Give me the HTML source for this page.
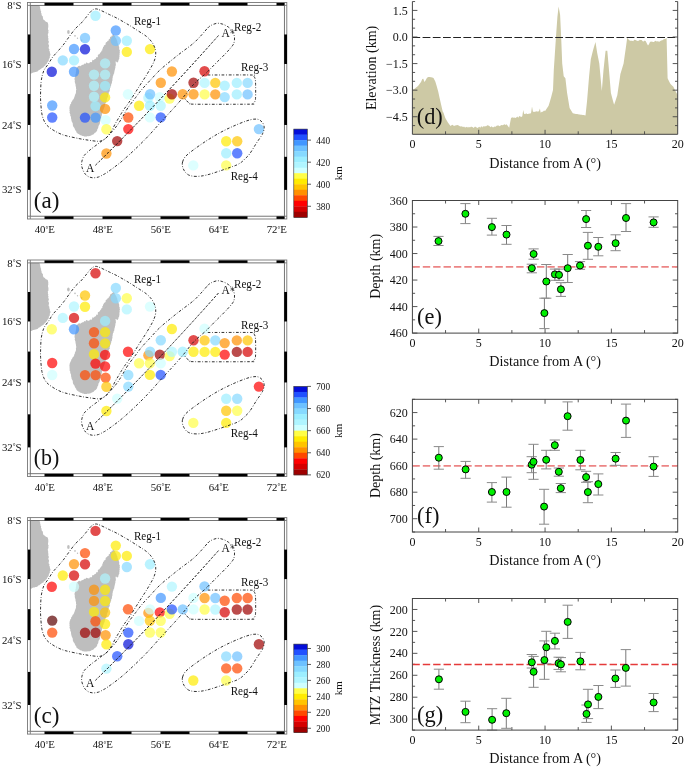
<!DOCTYPE html>
<html><head><meta charset="utf-8"><style>
html,body{margin:0;padding:0;background:#fff;}
svg{display:block;will-change:transform;}
text{font-family:"Liberation Serif",serif;fill:#111;}
</style></head><body>
<svg width="685" height="767" viewBox="0 0 685 767">
<rect width="685" height="767" fill="#fff"/>
<path d="M30.3,5.4 L39.5,5.4 L39.75,6.48 L40.2,7.5 L40.14,8.48 L40.5,9.4 L40.6,10.53 L41.2,11.5 L40.96,12.56 L41.5,13.5 L41.56,14.4 L41.67,15.28 L42.3,16 L42.97,16.82 L42.86,17.86 L43.1,18.8 L43.51,19.82 L44.5,20.3 L45.19,20.94 L45.83,21.66 L46.8,21.9 L47.68,22.49 L48,23.5 L48.3,25 L48.23,26 L48.33,27.02 L48,28 L48.04,28.83 L48.08,29.66 L48.66,30.44 L48.3,31.3 L48.48,32.25 L48.35,33.17 L47.7,34.04 L48,35 L47.82,35.94 L48.43,36.82 L47.91,37.78 L48.56,38.66 L48.3,39.6 L48.24,40.46 L48.74,41.28 L48.9,42.12 L48.5,43 L48.24,44 L48.91,44.93 L48.98,45.91 L48.8,46.9 L48.56,47.86 L48.84,48.7 L49.54,49.46 L49.13,50.45 L49.68,51.24 L49.9,52.1 L49.91,53.16 L50.5,54.12 L50.4,55.2 L49.81,56.05 L49.83,57.03 L49.8,58 L49.08,58.64 L48.81,59.46 L48.8,60.4 L48.45,61.21 L47.9,61.87 L47.3,62.5 L47.01,63.38 L46.49,64.09 L45.7,64.6 L45.36,65.5 L44.59,65.97 L43.77,66.39 L43.54,67.4 L42.6,67.7 L41.64,68.17 L40.95,69.02 L40,69.5 L39.45,70.11 L38.53,70.22 L38.06,70.94 L37.4,71.4 L36.48,71.86 L35.47,72.02 L34.5,72.3 L33.3,72.42 L32.2,72.9 L31.35,73.54 L30.3,73.4Z" fill="#bebebe"/>
<path d="M113.5,34.1 L114.09,34.88 L114.6,35.72 L115.2,36.5 L115.28,37.38 L115.92,37.99 L116.25,38.75 L116.6,39.5 L116.8,40.32 L117.33,41.03 L117.37,41.9 L117.55,42.73 L117.9,43.5 L117.96,44.46 L118.69,45.22 L118.81,46.16 L119.22,47.02 L119.2,48 L119.15,48.84 L119.39,49.63 L119.99,50.34 L119.51,51.27 L120,52 L119.53,53.11 L119.7,54.3 L119.47,55.08 L119.37,55.89 L119.56,56.74 L119.2,57.5 L119.33,58.57 L118.8,59.5 L118.46,60.24 L118.43,61.12 L118.02,61.84 L117.5,62.5 L116.74,62.14 L116.2,61.5 L115.3,61.8 L115.82,62.63 L115.72,63.59 L115.9,64.5 L115.79,65.38 L115.36,66.21 L115.44,67.12 L115.3,68 L114.98,68.93 L114.85,69.9 L114.51,70.82 L114.4,71.8 L114.23,72.61 L114.15,73.44 L113.46,74.12 L113.6,75 L112.97,75.86 L112.77,76.86 L112.7,77.9 L112.38,78.77 L112.48,79.72 L112.36,80.64 L112,81.5 L111.94,82.41 L111.89,83.32 L111.22,84.08 L111.2,85 L111.03,85.82 L110.49,86.53 L110.56,87.42 L109.93,88.11 L110,89 L109.53,89.75 L109.86,90.74 L109.48,91.52 L108.76,92.2 L108.8,93.1 L108.56,93.99 L107.96,94.76 L108.09,95.76 L108.05,96.7 L107.5,97.5 L107.15,98.35 L106.79,99.2 L106.87,100.19 L106.74,101.1 L106.2,101.9 L105.96,102.84 L105.2,103.58 L104.98,104.53 L104.8,105.5 L104.72,106.45 L104.32,107.26 L104.09,108.15 L103.5,108.9 L103.57,109.76 L102.85,110.39 L103.04,111.29 L102.6,112 L102.29,112.99 L102.1,114.01 L101.8,115 L101.78,115.93 L101.19,116.71 L101.38,117.69 L100.9,118.5 L100.58,119.35 L100.71,120.32 L100.28,121.14 L100,122 L99.93,123.05 L99.62,124.04 L99.2,125 L98.59,125.65 L98.4,126.46 L98.3,127.3 L98.06,128.32 L97.31,129.14 L97.2,130.2 L96.87,131.05 L96.26,131.71 L95.7,132.4 L94.84,132.81 L94.24,133.52 L93.6,134.2 L92.96,134.85 L91.91,134.7 L91.3,135.4 L90.46,135.86 L89.55,136.1 L88.6,136.2 L87.72,136.08 L86.88,136.45 L86,136.4 L85.12,136.44 L84.23,136.5 L83.4,136.1 L82.45,136.11 L81.68,135.51 L80.8,135.3 L79.91,135.02 L79.23,134.37 L78.4,134 L77.68,133.5 L77.05,132.89 L76.4,132.3 L76.22,131.22 L75.46,130.44 L75,129.5 L74.65,128.74 L74.43,127.91 L73.8,127.3 L73.26,126.48 L72.91,125.58 L72.8,124.6 L72.81,123.65 L72.48,122.8 L72,122 L71.53,120.95 L71.4,119.8 L71.04,118.78 L71.1,117.7 L70.81,116.54 L70.2,115.5 L70.3,114.34 L69.8,113.3 L69.46,112.4 L69.85,111.39 L69.4,110.5 L69.67,109.67 L69.47,108.83 L69.4,108 L69.61,107.05 L69.67,106.06 L70.2,105.2 L70.2,104.29 L71.1,103.71 L71.1,102.8 L71.37,101.94 L72.09,101.34 L72.4,100.5 L72.73,99.71 L73.52,99.23 L73.8,98.4 L74.19,97.69 L74.34,96.87 L74.8,96.2 L74.93,95.03 L75.5,94 L75.9,92.93 L76,91.8 L75.9,90.65 L76.4,89.6 L76.01,88.59 L76,87.5 L75.79,86.39 L75.5,85.3 L75.54,84.31 L75.18,83.42 L74.9,82.5 L74.65,81.68 L74.99,80.8 L74.6,80 L74.55,79.09 L74.57,78.19 L74.89,77.35 L75.2,76.5 L75.4,75.49 L75.37,74.43 L75.9,73.5 L75.75,72.68 L75.96,71.89 L76.18,71.1 L76.2,70.3 L76.15,69.28 L76.51,68.35 L76.8,67.4 L77.58,67.05 L78,66.3 L79.4,65.7 L80.42,66.31 L81.03,65.52 L81.82,65.36 L82.5,64.8 L83.54,64.65 L84.31,63.58 L85.5,63.9 L86.02,62.87 L86.78,62.6 L87.8,63.2 L89.17,63.37 L89.9,62.2 L90.83,62.12 L91.82,62.14 L92.2,61 L92.4,59.8 L93.74,60.2 L94.3,59.5 L94.91,58.91 L95.84,58.68 L96.2,57.8 L96.49,56.98 L97.94,57.2 L97.8,56 L97.91,54.66 L99.2,54.3 L99.87,53.45 L100.4,52.5 L101.27,51.87 L101.4,50.8 L102.46,50.19 L102.2,49 L102.99,48.27 L103,47.2 L103.77,46.52 L103.9,45.5 L104.89,45.05 L105.63,44.41 L105.6,43.2 L106,42.33 L107.05,42.02 L107.4,41.1 L108.68,40.58 L108.8,39.2 L109.93,38.8 L110,37.6 L110.49,36.83 L111.59,36.62 L111.8,35.6 L113.08,35.34Z" fill="#bebebe"/>
<ellipse cx="68.4" cy="32" rx="1.3" ry="2.0" fill="#bebebe"/>
<ellipse cx="75.0" cy="35.8" rx="0.8" ry="0.9" fill="#bebebe"/>
<ellipse cx="77.5" cy="38.2" rx="0.7" ry="0.8" fill="#bebebe"/>
<ellipse cx="81.6" cy="40.5" rx="0.8" ry="1.0" fill="#bebebe"/>
<circle cx="95.5" cy="15.8" r="5.2" fill="#9ceeff" fill-opacity="0.7"/>
<circle cx="115.8" cy="30.5" r="5.2" fill="#4196ff" fill-opacity="0.7"/>
<circle cx="85" cy="38" r="5.2" fill="#6dc1ff" fill-opacity="0.7"/>
<circle cx="115.8" cy="40.8" r="5.2" fill="#6dc1ff" fill-opacity="0.7"/>
<circle cx="126.8" cy="40.8" r="5.2" fill="#9ceeff" fill-opacity="0.7"/>
<circle cx="74" cy="49" r="5.2" fill="#4196ff" fill-opacity="0.7"/>
<circle cx="85" cy="49.2" r="5.2" fill="#040ed8" fill-opacity="0.7"/>
<circle cx="126.8" cy="51.9" r="5.2" fill="#ffeb00" fill-opacity="0.7"/>
<circle cx="150" cy="49.1" r="5.2" fill="#ffeb00" fill-opacity="0.7"/>
<circle cx="62.8" cy="60.4" r="5.2" fill="#86d9ff" fill-opacity="0.7"/>
<circle cx="74" cy="60.4" r="5.2" fill="#9ceeff" fill-opacity="0.7"/>
<circle cx="51.8" cy="71.7" r="5.2" fill="#040ed8" fill-opacity="0.7"/>
<circle cx="74" cy="71.7" r="5.2" fill="#4196ff" fill-opacity="0.7"/>
<circle cx="105.1" cy="63.4" r="5.2" fill="#aff5ff" fill-opacity="0.7"/>
<circle cx="94" cy="74.6" r="5.2" fill="#aff5ff" fill-opacity="0.7"/>
<circle cx="105.1" cy="74.6" r="5.2" fill="#aff5ff" fill-opacity="0.7"/>
<circle cx="94" cy="85.8" r="5.2" fill="#aff5ff" fill-opacity="0.7"/>
<circle cx="105.1" cy="85.9" r="5.2" fill="#9ceeff" fill-opacity="0.7"/>
<circle cx="94" cy="96.8" r="5.2" fill="#aff5ff" fill-opacity="0.7"/>
<circle cx="105.1" cy="97.4" r="5.2" fill="#ffeb00" fill-opacity="0.7"/>
<circle cx="95.5" cy="106.1" r="5.2" fill="#9ceeff" fill-opacity="0.7"/>
<circle cx="105.1" cy="108.9" r="5.2" fill="#ff9000" fill-opacity="0.7"/>
<circle cx="52.2" cy="105.5" r="5.2" fill="#4196ff" fill-opacity="0.7"/>
<circle cx="52.2" cy="117.5" r="5.2" fill="#2050ff" fill-opacity="0.7"/>
<circle cx="85" cy="117.6" r="5.2" fill="#2050ff" fill-opacity="0.7"/>
<circle cx="95.6" cy="117.6" r="5.2" fill="#4196ff" fill-opacity="0.7"/>
<circle cx="105.6" cy="120.1" r="5.2" fill="#ceffff" fill-opacity="0.7"/>
<circle cx="106.4" cy="129.3" r="5.2" fill="#fffe47" fill-opacity="0.7"/>
<circle cx="128" cy="94.2" r="5.2" fill="#ceffff" fill-opacity="0.7"/>
<circle cx="117.2" cy="141.1" r="5.2" fill="#9e0000" fill-opacity="0.7"/>
<circle cx="106.4" cy="153.5" r="5.2" fill="#ff9000" fill-opacity="0.7"/>
<circle cx="128.3" cy="117.5" r="5.2" fill="#ff4800" fill-opacity="0.7"/>
<circle cx="128.3" cy="129.1" r="5.2" fill="#ff0000" fill-opacity="0.7"/>
<circle cx="139.1" cy="105.8" r="5.2" fill="#ffeb00" fill-opacity="0.7"/>
<circle cx="148.4" cy="97.8" r="5.2" fill="#aff5ff" fill-opacity="0.7"/>
<circle cx="150.1" cy="94.3" r="5.2" fill="#6dc1ff" fill-opacity="0.7"/>
<circle cx="159.8" cy="97.3" r="5.2" fill="#ceffff" fill-opacity="0.7"/>
<circle cx="149.9" cy="105.7" r="5.2" fill="#9ceeff" fill-opacity="0.7"/>
<circle cx="160.7" cy="105.7" r="5.2" fill="#aff5ff" fill-opacity="0.7"/>
<circle cx="149.9" cy="117.4" r="5.2" fill="#ceffff" fill-opacity="0.7"/>
<circle cx="160.7" cy="117.4" r="5.2" fill="#2050ff" fill-opacity="0.7"/>
<circle cx="160.8" cy="82.8" r="5.2" fill="#ff9000" fill-opacity="0.7"/>
<circle cx="171.9" cy="71.5" r="5.2" fill="#ff9000" fill-opacity="0.7"/>
<circle cx="169.6" cy="98.6" r="5.2" fill="#fffe47" fill-opacity="0.7"/>
<circle cx="171.9" cy="94.3" r="5.2" fill="#9e0000" fill-opacity="0.7"/>
<circle cx="182.7" cy="94.3" r="5.2" fill="#ff9000" fill-opacity="0.7"/>
<circle cx="193.5" cy="82.8" r="5.2" fill="#9e0000" fill-opacity="0.7"/>
<circle cx="193.5" cy="94.3" r="5.2" fill="#ff9000" fill-opacity="0.7"/>
<circle cx="204.5" cy="71.3" r="5.2" fill="#d50000" fill-opacity="0.7"/>
<circle cx="204.6" cy="82.9" r="5.2" fill="#aff5ff" fill-opacity="0.7"/>
<circle cx="215.3" cy="82.9" r="5.2" fill="#ffc400" fill-opacity="0.7"/>
<circle cx="224.7" cy="85.6" r="5.2" fill="#9ceeff" fill-opacity="0.7"/>
<circle cx="236.8" cy="82.9" r="5.2" fill="#9ceeff" fill-opacity="0.7"/>
<circle cx="247.6" cy="82.9" r="5.2" fill="#86d9ff" fill-opacity="0.7"/>
<circle cx="204.6" cy="94.4" r="5.2" fill="#fffe47" fill-opacity="0.7"/>
<circle cx="215.3" cy="94.4" r="5.2" fill="#ff9000" fill-opacity="0.7"/>
<circle cx="224.7" cy="97.1" r="5.2" fill="#86d9ff" fill-opacity="0.7"/>
<circle cx="236.8" cy="94.4" r="5.2" fill="#9ceeff" fill-opacity="0.7"/>
<circle cx="247.6" cy="94.4" r="5.2" fill="#6dc1ff" fill-opacity="0.7"/>
<circle cx="258.9" cy="129.1" r="5.2" fill="#6dc1ff" fill-opacity="0.7"/>
<circle cx="226.2" cy="141.3" r="5.2" fill="#ffeb00" fill-opacity="0.7"/>
<circle cx="237.2" cy="141.3" r="5.2" fill="#ffc400" fill-opacity="0.7"/>
<circle cx="226.2" cy="153.3" r="5.2" fill="#9ceeff" fill-opacity="0.7"/>
<circle cx="237.2" cy="153.3" r="5.2" fill="#2050ff" fill-opacity="0.7"/>
<circle cx="193.3" cy="165.4" r="5.2" fill="#ceffff" fill-opacity="0.7"/>
<circle cx="226.2" cy="165.4" r="5.2" fill="#fffe47" fill-opacity="0.7"/>
<path d="M85.2,18.4 C86.9,16.37 89.3,12.88 91,11.3 C92.7,9.72 93.82,9.07 95.4,8.9 C96.98,8.73 98.12,9.33 100.5,10.3 C102.88,11.27 106.95,13.38 109.7,14.7 C112.45,16.02 114.47,16.87 117,18.2 C119.53,19.53 122.7,21.43 124.9,22.7 C127.1,23.97 128.1,24.5 130.2,25.8 C132.3,27.1 135.33,29.12 137.5,30.5 C139.67,31.88 141.58,33.02 143.2,34.1 C144.82,35.18 146.03,36.02 147.2,37 C148.37,37.98 149.27,38.92 150.2,40 C151.13,41.08 152.02,42.17 152.8,43.5 C153.58,44.83 154.42,46.58 154.9,48 C155.38,49.42 155.63,50.42 155.7,52 C155.77,53.58 155.82,55.42 155.3,57.5 C154.78,59.58 154.1,61.52 152.6,64.5 C151.1,67.48 148.38,71.98 146.3,75.4 C144.22,78.82 142.15,81.78 140.1,85 C138.05,88.22 135.88,91.77 134,94.7 C132.12,97.63 130.4,100.27 128.8,102.6 C127.2,104.93 125.62,106.93 124.4,108.7 C123.18,110.47 122.52,111.55 121.5,113.2 C120.48,114.85 119.42,116.7 118.3,118.6 C117.18,120.5 115.85,122.65 114.8,124.6 C113.75,126.55 113.05,128.52 112,130.3 C110.95,132.08 109.67,133.85 108.5,135.3 C107.33,136.75 106.17,138.08 105,139 C103.83,139.92 102.75,140.42 101.5,140.8 C100.25,141.18 99.65,141.4 97.5,141.3 C95.35,141.2 91.67,140.65 88.6,140.2 C85.53,139.75 82.88,139.35 79.1,138.6 C75.32,137.85 69.3,136.62 65.9,135.7 C62.5,134.78 61.1,134.22 58.7,133.1 C56.3,131.98 53.55,130.4 51.5,129 C49.45,127.6 47.77,126.37 46.4,124.7 C45.03,123.03 44.1,121.12 43.3,119 C42.5,116.88 42.05,115.17 41.6,112 C41.15,108.83 40.77,103.33 40.6,100 C40.43,96.67 40.52,95 40.6,92 C40.68,89 40.8,84.83 41.1,82 C41.4,79.17 41.85,77.08 42.4,75 C42.95,72.92 43.38,71.38 44.4,69.5 C45.42,67.62 47.1,65.8 48.5,63.7 C49.9,61.6 51.1,59.13 52.8,56.9 C54.5,54.67 56.8,52.5 58.7,50.3 C60.6,48.1 62.37,46.08 64.2,43.7 C66.03,41.32 67.82,38.53 69.7,36 C71.58,33.47 73.65,30.58 75.5,28.5 C77.35,26.42 79.18,25.18 80.8,23.5 C82.42,21.82 83.5,20.43 85.2,18.4Z" stroke="#1a1a1a" stroke-width="0.9" stroke-dasharray="2.7 1.7 0.8 1.8" fill="none"/>
<path d="M207.8,27.9 C209.3,26.38 209.48,26.17 211,25.4 C212.52,24.63 214.93,23.5 216.9,23.3 C218.87,23.1 220.83,23.53 222.8,24.2 C224.77,24.87 227.08,26.08 228.7,27.3 C230.32,28.52 231.55,29.97 232.5,31.5 C233.45,33.03 234.1,34.9 234.4,36.5 C234.7,38.1 234.57,39.65 234.3,41.1 C234.03,42.55 234.13,43.25 232.8,45.2 C231.47,47.15 228.95,49.97 226.3,52.8 C223.65,55.63 219.63,59.45 216.9,62.2 C214.17,64.95 211.85,67.33 209.9,69.3 C207.95,71.27 207.93,71.47 205.2,74 C202.47,76.53 196.83,81.02 193.5,84.5 C190.17,87.98 187.95,91.57 185.2,94.9 C182.45,98.23 179.15,102.03 177,104.5 C174.85,106.97 175.07,106.68 172.3,109.7 C169.53,112.72 164.57,118.03 160.4,122.6 C156.23,127.17 151.68,132.5 147.3,137.1 C142.92,141.7 138.48,146.05 134.1,150.2 C129.72,154.35 125.38,158.38 121,162 C116.62,165.62 110.8,169.77 107.8,171.9 C104.8,174.03 104.55,173.95 103,174.8 C101.45,175.65 100.1,176.5 98.5,177 C96.9,177.5 94.93,177.8 93.4,177.8 C91.87,177.8 90.6,177.55 89.3,177 C88,176.45 86.65,175.63 85.6,174.5 C84.55,173.37 83.65,171.65 83,170.2 C82.35,168.75 81.88,167.28 81.7,165.8 C81.52,164.32 81.48,163.02 81.9,161.3 C82.32,159.58 82.72,157.5 84.2,155.5 C85.68,153.5 88.58,151.17 90.8,149.3 C93.02,147.43 95.77,145.62 97.5,144.3 C99.23,142.98 99.67,142.57 101.2,141.4 C102.73,140.23 105.15,138.65 106.7,137.3 C108.25,135.95 109.25,134.65 110.5,133.3 C111.75,131.95 112.88,130.82 114.2,129.2 C115.52,127.58 117,125.67 118.4,123.6 C119.8,121.53 121.02,119.43 122.6,116.8 C124.18,114.17 125.7,111.05 127.9,107.8 C130.1,104.55 133.47,100.37 135.8,97.3 C138.13,94.23 139.42,92.32 141.9,89.4 C144.38,86.48 147.78,82.95 150.7,79.8 C153.62,76.65 156.18,73.55 159.4,70.5 C162.62,67.45 166.57,64.33 170,61.5 C173.43,58.67 176.08,56.55 180,53.5 C183.92,50.45 189.83,46.37 193.5,43.2 C197.17,40.03 199.62,37.05 202,34.5 C204.38,31.95 206.3,29.42 207.8,27.9Z" stroke="#1a1a1a" stroke-width="0.9" stroke-dasharray="2.7 1.7 0.8 1.8" fill="none"/>
<path d="M207.8,75 C215,75 243.37,74.82 251,75 C258.63,75.18 252.9,75.43 253.6,76.1 C254.3,76.77 254.87,77.6 255.2,79 C255.53,80.4 255.53,81.58 255.6,84.5 C255.67,87.42 255.7,93.72 255.6,96.5 C255.5,99.28 255.52,99.97 255,101.2 C254.48,102.43 253.5,103.4 252.5,103.9 C251.5,104.4 258.58,104.15 249,104.2 C239.42,104.25 204.83,104.37 195,104.2 C185.17,104.03 191.42,103.77 190,103.2 C188.58,102.63 187.47,101.75 186.5,100.8 C185.53,99.85 184.58,98.05 184.2,97.5" stroke="#1a1a1a" stroke-width="0.9" stroke-dasharray="2.7 1.7 0.8 1.8" fill="none"/>
<path d="M182.6,161.9 C183.07,160.3 183.55,158.67 185.3,156.7 C187.05,154.73 189.6,152.73 193.1,150.1 C196.6,147.47 201.92,143.75 206.3,140.9 C210.68,138.05 215.02,135.4 219.4,133 C223.78,130.6 228.22,128.47 232.6,126.5 C236.98,124.53 242.2,122.42 245.7,121.2 C249.2,119.98 251.42,119.47 253.6,119.2 C255.78,118.93 257.37,119.1 258.8,119.6 C260.23,120.1 261.35,121.2 262.2,122.2 C263.05,123.2 263.58,124.45 263.9,125.6 C264.22,126.75 264.28,127.83 264.1,129.1 C263.92,130.37 263.23,132.1 262.8,133.2 C262.37,134.3 262.6,133.98 261.5,135.7 C260.4,137.42 258.18,140.45 256.2,143.5 C254.22,146.55 251.55,151.37 249.6,154 C247.65,156.63 245.8,157.98 244.5,159.3 C243.2,160.62 242.97,161.02 241.8,161.9 C240.63,162.78 239.03,163.83 237.5,164.6 C235.97,165.37 235.62,165.42 232.6,166.5 C229.58,167.58 223.78,169.67 219.4,171.1 C215.02,172.53 210.02,174.22 206.3,175.1 C202.58,175.98 199.73,176.3 197.1,176.4 C194.47,176.5 192.27,176.18 190.5,175.7 C188.73,175.22 187.58,174.42 186.5,173.5 C185.42,172.58 184.67,171.4 184,170.2 C183.33,169 182.73,167.68 182.5,166.3 C182.27,164.92 182.13,163.5 182.6,161.9Z" stroke="#1a1a1a" stroke-width="0.9" stroke-dasharray="2.7 1.7 0.8 1.8" fill="none"/>
<path d="M95.4,165.3 Q156.95,104.8 218.5,35.5" fill="none" stroke="#111" stroke-width="0.95" stroke-dasharray="2.6 1.5"/>
<text x="86.1" y="172" font-size="11.5">A</text>
<text x="221.4" y="36.6" font-size="11.5">A</text>
<line x1="232.4" y1="29.2" x2="232.4" y2="34" stroke="#333" stroke-width="0.6"/>
<line x1="230.32" y1="30.4" x2="234.48" y2="32.8" stroke="#333" stroke-width="0.6"/>
<line x1="234.48" y1="30.4" x2="230.32" y2="32.8" stroke="#333" stroke-width="0.6"/>
<text x="133.9" y="25" font-size="11.6" textLength="27.2" lengthAdjust="spacingAndGlyphs">Reg-1</text>
<text x="234.0" y="30.8" font-size="11.6" textLength="27.2" lengthAdjust="spacingAndGlyphs">Reg-2</text>
<text x="241.1" y="71.3" font-size="11.6" textLength="27.2" lengthAdjust="spacingAndGlyphs">Reg-3</text>
<text x="230.7" y="179.7" font-size="11.6" textLength="27.2" lengthAdjust="spacingAndGlyphs">Reg-4</text>
<rect x="27.5" y="2.5" width="259.3" height="216.5" fill="none" stroke="#777" stroke-width="0.9"/>
<rect x="30.3" y="5.4" width="254.1" height="210.8" fill="none" stroke="#666" stroke-width="0.9"/>
<line x1="27.5" y1="5.4" x2="30.3" y2="5.4" stroke="#777" stroke-width="0.9"/>
<line x1="284.4" y1="5.4" x2="286.8" y2="5.4" stroke="#777" stroke-width="0.9"/>
<line x1="27.5" y1="216.2" x2="30.3" y2="216.2" stroke="#777" stroke-width="0.9"/>
<line x1="284.4" y1="216.2" x2="286.8" y2="216.2" stroke="#777" stroke-width="0.9"/>
<line x1="30.3" y1="2.5" x2="30.3" y2="5.4" stroke="#777" stroke-width="0.9"/>
<line x1="284.4" y1="2.5" x2="284.4" y2="5.4" stroke="#777" stroke-width="0.9"/>
<line x1="30.3" y1="216.2" x2="30.3" y2="219" stroke="#777" stroke-width="0.9"/>
<line x1="284.4" y1="216.2" x2="284.4" y2="219" stroke="#777" stroke-width="0.9"/>
<rect x="44.5" y="2.9" width="29" height="2.5" fill="#000"/>
<rect x="44.5" y="216.4" width="29" height="2.5" fill="#000"/>
<rect x="102.5" y="2.9" width="29" height="2.5" fill="#000"/>
<rect x="102.5" y="216.4" width="29" height="2.5" fill="#000"/>
<rect x="160.5" y="2.9" width="29" height="2.5" fill="#000"/>
<rect x="160.5" y="216.4" width="29" height="2.5" fill="#000"/>
<rect x="218.5" y="2.9" width="29" height="2.5" fill="#000"/>
<rect x="218.5" y="216.4" width="29" height="2.5" fill="#000"/>
<rect x="276.5" y="2.9" width="7.9" height="2.5" fill="#000"/>
<rect x="276.5" y="216.4" width="7.9" height="2.5" fill="#000"/>
<rect x="27.9" y="34.47" width="2.4" height="29.51" fill="#000"/>
<rect x="284.2" y="34.47" width="2.8" height="29.51" fill="#000"/>
<rect x="27.9" y="94.08" width="2.4" height="30.88" fill="#000"/>
<rect x="284.2" y="94.08" width="2.8" height="30.88" fill="#000"/>
<rect x="27.9" y="156.82" width="2.4" height="33.06" fill="#000"/>
<rect x="284.2" y="156.82" width="2.8" height="33.06" fill="#000"/>
<text x="21.5" y="9" text-anchor="end" font-size="10.8">8<tspan font-size="7" dy="-2.5">°</tspan><tspan dy="2.5">S</tspan></text>
<text x="21.5" y="67.58" text-anchor="end" font-size="10.8">16<tspan font-size="7" dy="-2.5">°</tspan><tspan dy="2.5">S</tspan></text>
<text x="21.5" y="128.56" text-anchor="end" font-size="10.8">24<tspan font-size="7" dy="-2.5">°</tspan><tspan dy="2.5">S</tspan></text>
<text x="21.5" y="193.48" text-anchor="end" font-size="10.8">32<tspan font-size="7" dy="-2.5">°</tspan><tspan dy="2.5">S</tspan></text>
<text x="44.8" y="233" text-anchor="middle" font-size="10.8">40<tspan font-size="7" dy="-2.5">°</tspan><tspan dy="2.5">E</tspan></text>
<text x="102.8" y="233" text-anchor="middle" font-size="10.8">48<tspan font-size="7" dy="-2.5">°</tspan><tspan dy="2.5">E</tspan></text>
<text x="160.8" y="233" text-anchor="middle" font-size="10.8">56<tspan font-size="7" dy="-2.5">°</tspan><tspan dy="2.5">E</tspan></text>
<text x="218.8" y="233" text-anchor="middle" font-size="10.8">64<tspan font-size="7" dy="-2.5">°</tspan><tspan dy="2.5">E</tspan></text>
<text x="276.8" y="233" text-anchor="middle" font-size="10.8">72<tspan font-size="7" dy="-2.5">°</tspan><tspan dy="2.5">E</tspan></text>
<text x="33.8" y="207.6" font-size="22.5" textLength="25.6" lengthAdjust="spacingAndGlyphs">(a)</text>
<path d="M30.3,262.9 L39.5,262.9 L39.75,263.98 L40.2,265 L40.14,265.98 L40.5,266.9 L40.6,268.03 L41.2,269 L40.96,270.06 L41.5,271 L41.56,271.9 L41.67,272.78 L42.3,273.5 L42.97,274.32 L42.86,275.36 L43.1,276.3 L43.51,277.32 L44.5,277.8 L45.19,278.44 L45.83,279.16 L46.8,279.4 L47.68,279.99 L48,281 L48.3,282.5 L48.23,283.5 L48.33,284.52 L48,285.5 L48.04,286.33 L48.08,287.16 L48.66,287.94 L48.3,288.8 L48.48,289.75 L48.35,290.67 L47.7,291.54 L48,292.5 L47.82,293.44 L48.43,294.32 L47.91,295.28 L48.56,296.16 L48.3,297.1 L48.24,297.96 L48.74,298.78 L48.9,299.62 L48.5,300.5 L48.24,301.5 L48.91,302.43 L48.98,303.41 L48.8,304.4 L48.56,305.36 L48.84,306.2 L49.54,306.96 L49.13,307.95 L49.68,308.74 L49.9,309.6 L49.91,310.66 L50.5,311.62 L50.4,312.7 L49.81,313.55 L49.83,314.53 L49.8,315.5 L49.08,316.14 L48.81,316.96 L48.8,317.9 L48.45,318.71 L47.9,319.37 L47.3,320 L47.01,320.88 L46.49,321.59 L45.7,322.1 L45.36,323 L44.59,323.47 L43.77,323.89 L43.54,324.9 L42.6,325.2 L41.64,325.67 L40.95,326.52 L40,327 L39.45,327.61 L38.53,327.72 L38.06,328.44 L37.4,328.9 L36.48,329.36 L35.47,329.52 L34.5,329.8 L33.3,329.92 L32.2,330.4 L31.35,331.04 L30.3,330.9Z" fill="#bebebe"/>
<path d="M113.5,291.6 L114.09,292.38 L114.6,293.22 L115.2,294 L115.28,294.88 L115.92,295.49 L116.25,296.25 L116.6,297 L116.8,297.82 L117.33,298.53 L117.37,299.4 L117.55,300.23 L117.9,301 L117.96,301.96 L118.69,302.72 L118.81,303.66 L119.22,304.52 L119.2,305.5 L119.15,306.34 L119.39,307.13 L119.99,307.84 L119.51,308.77 L120,309.5 L119.53,310.61 L119.7,311.8 L119.47,312.58 L119.37,313.39 L119.56,314.24 L119.2,315 L119.33,316.07 L118.8,317 L118.46,317.74 L118.43,318.62 L118.02,319.34 L117.5,320 L116.74,319.64 L116.2,319 L115.3,319.3 L115.82,320.13 L115.72,321.09 L115.9,322 L115.79,322.88 L115.36,323.71 L115.44,324.62 L115.3,325.5 L114.98,326.43 L114.85,327.4 L114.51,328.32 L114.4,329.3 L114.23,330.11 L114.15,330.94 L113.46,331.62 L113.6,332.5 L112.97,333.36 L112.77,334.36 L112.7,335.4 L112.38,336.27 L112.48,337.22 L112.36,338.14 L112,339 L111.94,339.91 L111.89,340.82 L111.22,341.58 L111.2,342.5 L111.03,343.32 L110.49,344.03 L110.56,344.92 L109.93,345.61 L110,346.5 L109.53,347.25 L109.86,348.24 L109.48,349.02 L108.76,349.7 L108.8,350.6 L108.56,351.49 L107.96,352.26 L108.09,353.26 L108.05,354.2 L107.5,355 L107.15,355.85 L106.79,356.7 L106.87,357.69 L106.74,358.6 L106.2,359.4 L105.96,360.34 L105.2,361.08 L104.98,362.03 L104.8,363 L104.72,363.95 L104.32,364.76 L104.09,365.65 L103.5,366.4 L103.57,367.26 L102.85,367.89 L103.04,368.79 L102.6,369.5 L102.29,370.49 L102.1,371.51 L101.8,372.5 L101.78,373.43 L101.19,374.21 L101.38,375.19 L100.9,376 L100.58,376.85 L100.71,377.82 L100.28,378.64 L100,379.5 L99.93,380.55 L99.62,381.54 L99.2,382.5 L98.59,383.15 L98.4,383.96 L98.3,384.8 L98.06,385.82 L97.31,386.64 L97.2,387.7 L96.87,388.55 L96.26,389.21 L95.7,389.9 L94.84,390.31 L94.24,391.02 L93.6,391.7 L92.96,392.35 L91.91,392.2 L91.3,392.9 L90.46,393.36 L89.55,393.6 L88.6,393.7 L87.72,393.58 L86.88,393.95 L86,393.9 L85.12,393.94 L84.23,394 L83.4,393.6 L82.45,393.61 L81.68,393.01 L80.8,392.8 L79.91,392.52 L79.23,391.87 L78.4,391.5 L77.68,391 L77.05,390.39 L76.4,389.8 L76.22,388.72 L75.46,387.94 L75,387 L74.65,386.24 L74.43,385.41 L73.8,384.8 L73.26,383.98 L72.91,383.08 L72.8,382.1 L72.81,381.15 L72.48,380.3 L72,379.5 L71.53,378.45 L71.4,377.3 L71.04,376.28 L71.1,375.2 L70.81,374.04 L70.2,373 L70.3,371.84 L69.8,370.8 L69.46,369.9 L69.85,368.89 L69.4,368 L69.67,367.17 L69.47,366.33 L69.4,365.5 L69.61,364.55 L69.67,363.56 L70.2,362.7 L70.2,361.79 L71.1,361.21 L71.1,360.3 L71.37,359.44 L72.09,358.84 L72.4,358 L72.73,357.21 L73.52,356.73 L73.8,355.9 L74.19,355.19 L74.34,354.37 L74.8,353.7 L74.93,352.53 L75.5,351.5 L75.9,350.43 L76,349.3 L75.9,348.15 L76.4,347.1 L76.01,346.09 L76,345 L75.79,343.89 L75.5,342.8 L75.54,341.81 L75.18,340.92 L74.9,340 L74.65,339.18 L74.99,338.3 L74.6,337.5 L74.55,336.59 L74.57,335.69 L74.89,334.85 L75.2,334 L75.4,332.99 L75.37,331.93 L75.9,331 L75.75,330.18 L75.96,329.39 L76.18,328.6 L76.2,327.8 L76.15,326.78 L76.51,325.85 L76.8,324.9 L77.58,324.55 L78,323.8 L79.4,323.2 L80.42,323.81 L81.03,323.02 L81.82,322.86 L82.5,322.3 L83.54,322.15 L84.31,321.08 L85.5,321.4 L86.02,320.37 L86.78,320.1 L87.8,320.7 L89.17,320.87 L89.9,319.7 L90.83,319.62 L91.82,319.64 L92.2,318.5 L92.4,317.3 L93.74,317.7 L94.3,317 L94.91,316.41 L95.84,316.18 L96.2,315.3 L96.49,314.48 L97.94,314.7 L97.8,313.5 L97.91,312.16 L99.2,311.8 L99.87,310.95 L100.4,310 L101.27,309.37 L101.4,308.3 L102.46,307.69 L102.2,306.5 L102.99,305.77 L103,304.7 L103.77,304.02 L103.9,303 L104.89,302.55 L105.63,301.91 L105.6,300.7 L106,299.83 L107.05,299.52 L107.4,298.6 L108.68,298.08 L108.8,296.7 L109.93,296.3 L110,295.1 L110.49,294.33 L111.59,294.12 L111.8,293.1 L113.08,292.84Z" fill="#bebebe"/>
<ellipse cx="68.4" cy="289.5" rx="1.3" ry="2.0" fill="#bebebe"/>
<ellipse cx="75.0" cy="293.3" rx="0.8" ry="0.9" fill="#bebebe"/>
<ellipse cx="77.5" cy="295.7" rx="0.7" ry="0.8" fill="#bebebe"/>
<ellipse cx="81.6" cy="298" rx="0.8" ry="1.0" fill="#bebebe"/>
<circle cx="95.5" cy="273.3" r="5.2" fill="#d50000" fill-opacity="0.7"/>
<circle cx="115.8" cy="288" r="5.2" fill="#86d9ff" fill-opacity="0.7"/>
<circle cx="85" cy="295.5" r="5.2" fill="#ffc400" fill-opacity="0.7"/>
<circle cx="115.8" cy="298.3" r="5.2" fill="#86d9ff" fill-opacity="0.7"/>
<circle cx="126.8" cy="298.3" r="5.2" fill="#fffe47" fill-opacity="0.7"/>
<circle cx="74" cy="306.5" r="5.2" fill="#aff5ff" fill-opacity="0.7"/>
<circle cx="85" cy="306.7" r="5.2" fill="#ffeb00" fill-opacity="0.7"/>
<circle cx="126.8" cy="309.4" r="5.2" fill="#aff5ff" fill-opacity="0.7"/>
<circle cx="150" cy="306.6" r="5.2" fill="#ceffff" fill-opacity="0.7"/>
<circle cx="62.8" cy="317.9" r="5.2" fill="#aff5ff" fill-opacity="0.7"/>
<circle cx="74" cy="317.9" r="5.2" fill="#d50000" fill-opacity="0.7"/>
<circle cx="51.8" cy="329.2" r="5.2" fill="#fffe47" fill-opacity="0.7"/>
<circle cx="74" cy="329.2" r="5.2" fill="#4196ff" fill-opacity="0.7"/>
<circle cx="105.1" cy="320.9" r="5.2" fill="#9ceeff" fill-opacity="0.7"/>
<circle cx="94" cy="332.1" r="5.2" fill="#ff4800" fill-opacity="0.7"/>
<circle cx="105.1" cy="332.1" r="5.2" fill="#ffeb00" fill-opacity="0.7"/>
<circle cx="94" cy="343.3" r="5.2" fill="#ff4800" fill-opacity="0.7"/>
<circle cx="105.1" cy="343.4" r="5.2" fill="#ffeb00" fill-opacity="0.7"/>
<circle cx="94" cy="354.3" r="5.2" fill="#ffeb00" fill-opacity="0.7"/>
<circle cx="105.1" cy="354.9" r="5.2" fill="#ff0000" fill-opacity="0.7"/>
<circle cx="95.5" cy="363.6" r="5.2" fill="#ff0000" fill-opacity="0.7"/>
<circle cx="105.1" cy="366.4" r="5.2" fill="#ff0000" fill-opacity="0.7"/>
<circle cx="52.2" cy="363" r="5.2" fill="#ff0000" fill-opacity="0.7"/>
<circle cx="52.2" cy="375" r="5.2" fill="#ceffff" fill-opacity="0.7"/>
<circle cx="85" cy="375.1" r="5.2" fill="#ff4800" fill-opacity="0.7"/>
<circle cx="95.6" cy="375.1" r="5.2" fill="#ff4800" fill-opacity="0.7"/>
<circle cx="105.6" cy="377.6" r="5.2" fill="#ff4800" fill-opacity="0.7"/>
<circle cx="106.4" cy="386.8" r="5.2" fill="#ffc400" fill-opacity="0.7"/>
<circle cx="128" cy="351.7" r="5.2" fill="#ff0000" fill-opacity="0.7"/>
<circle cx="117.2" cy="398.6" r="5.2" fill="#ceffff" fill-opacity="0.7"/>
<circle cx="106.4" cy="411" r="5.2" fill="#ffeb00" fill-opacity="0.7"/>
<circle cx="128.3" cy="375" r="5.2" fill="#86d9ff" fill-opacity="0.7"/>
<circle cx="128.3" cy="386.6" r="5.2" fill="#86d9ff" fill-opacity="0.7"/>
<circle cx="139.1" cy="363.3" r="5.2" fill="#fffe47" fill-opacity="0.7"/>
<circle cx="148.4" cy="355.3" r="5.2" fill="#ff9000" fill-opacity="0.7"/>
<circle cx="150.1" cy="351.8" r="5.2" fill="#86d9ff" fill-opacity="0.7"/>
<circle cx="159.8" cy="354.8" r="5.2" fill="#9e0000" fill-opacity="0.7"/>
<circle cx="149.9" cy="363.2" r="5.2" fill="#fffe47" fill-opacity="0.7"/>
<circle cx="160.7" cy="363.2" r="5.2" fill="#ceffff" fill-opacity="0.7"/>
<circle cx="149.9" cy="374.9" r="5.2" fill="#ffeb00" fill-opacity="0.7"/>
<circle cx="160.7" cy="374.9" r="5.2" fill="#2050ff" fill-opacity="0.7"/>
<circle cx="160.8" cy="340.3" r="5.2" fill="#86d9ff" fill-opacity="0.7"/>
<circle cx="171.9" cy="329" r="5.2" fill="#ffeb00" fill-opacity="0.7"/>
<circle cx="169.6" cy="356.1" r="5.2" fill="#fffe47" fill-opacity="0.7"/>
<circle cx="171.9" cy="351.8" r="5.2" fill="#aff5ff" fill-opacity="0.7"/>
<circle cx="182.7" cy="351.8" r="5.2" fill="#9ceeff" fill-opacity="0.7"/>
<circle cx="193.5" cy="340.3" r="5.2" fill="#d50000" fill-opacity="0.7"/>
<circle cx="193.5" cy="351.8" r="5.2" fill="#ffeb00" fill-opacity="0.7"/>
<circle cx="204.5" cy="328.8" r="5.2" fill="#ceffff" fill-opacity="0.7"/>
<circle cx="204.6" cy="340.4" r="5.2" fill="#ffc400" fill-opacity="0.7"/>
<circle cx="215.3" cy="340.4" r="5.2" fill="#86d9ff" fill-opacity="0.7"/>
<circle cx="224.7" cy="343.1" r="5.2" fill="#ff9000" fill-opacity="0.7"/>
<circle cx="236.8" cy="340.4" r="5.2" fill="#ff9000" fill-opacity="0.7"/>
<circle cx="247.6" cy="340.4" r="5.2" fill="#ffc400" fill-opacity="0.7"/>
<circle cx="204.6" cy="351.9" r="5.2" fill="#ffeb00" fill-opacity="0.7"/>
<circle cx="215.3" cy="351.9" r="5.2" fill="#ffeb00" fill-opacity="0.7"/>
<circle cx="224.7" cy="354.6" r="5.2" fill="#ff0000" fill-opacity="0.7"/>
<circle cx="236.8" cy="351.9" r="5.2" fill="#9e0000" fill-opacity="0.7"/>
<circle cx="247.6" cy="351.9" r="5.2" fill="#d50000" fill-opacity="0.7"/>
<circle cx="258.9" cy="386.6" r="5.2" fill="#ff0000" fill-opacity="0.7"/>
<circle cx="226.2" cy="398.8" r="5.2" fill="#9ceeff" fill-opacity="0.7"/>
<circle cx="237.2" cy="398.8" r="5.2" fill="#86d9ff" fill-opacity="0.7"/>
<circle cx="226.2" cy="410.8" r="5.2" fill="#ffc400" fill-opacity="0.7"/>
<circle cx="237.2" cy="410.8" r="5.2" fill="#fffe47" fill-opacity="0.7"/>
<circle cx="193.3" cy="422.9" r="5.2" fill="#fffe47" fill-opacity="0.7"/>
<circle cx="226.2" cy="422.9" r="5.2" fill="#ffeb00" fill-opacity="0.7"/>
<path d="M85.2,275.9 C86.9,273.87 89.3,270.38 91,268.8 C92.7,267.22 93.82,266.57 95.4,266.4 C96.98,266.23 98.12,266.83 100.5,267.8 C102.88,268.77 106.95,270.88 109.7,272.2 C112.45,273.52 114.47,274.37 117,275.7 C119.53,277.03 122.7,278.93 124.9,280.2 C127.1,281.47 128.1,282 130.2,283.3 C132.3,284.6 135.33,286.62 137.5,288 C139.67,289.38 141.58,290.52 143.2,291.6 C144.82,292.68 146.03,293.52 147.2,294.5 C148.37,295.48 149.27,296.42 150.2,297.5 C151.13,298.58 152.02,299.67 152.8,301 C153.58,302.33 154.42,304.08 154.9,305.5 C155.38,306.92 155.63,307.92 155.7,309.5 C155.77,311.08 155.82,312.92 155.3,315 C154.78,317.08 154.1,319.02 152.6,322 C151.1,324.98 148.38,329.48 146.3,332.9 C144.22,336.32 142.15,339.28 140.1,342.5 C138.05,345.72 135.88,349.27 134,352.2 C132.12,355.13 130.4,357.77 128.8,360.1 C127.2,362.43 125.62,364.43 124.4,366.2 C123.18,367.97 122.52,369.05 121.5,370.7 C120.48,372.35 119.42,374.2 118.3,376.1 C117.18,378 115.85,380.15 114.8,382.1 C113.75,384.05 113.05,386.02 112,387.8 C110.95,389.58 109.67,391.35 108.5,392.8 C107.33,394.25 106.17,395.58 105,396.5 C103.83,397.42 102.75,397.92 101.5,398.3 C100.25,398.68 99.65,398.9 97.5,398.8 C95.35,398.7 91.67,398.15 88.6,397.7 C85.53,397.25 82.88,396.85 79.1,396.1 C75.32,395.35 69.3,394.12 65.9,393.2 C62.5,392.28 61.1,391.72 58.7,390.6 C56.3,389.48 53.55,387.9 51.5,386.5 C49.45,385.1 47.77,383.87 46.4,382.2 C45.03,380.53 44.1,378.62 43.3,376.5 C42.5,374.38 42.05,372.67 41.6,369.5 C41.15,366.33 40.77,360.83 40.6,357.5 C40.43,354.17 40.52,352.5 40.6,349.5 C40.68,346.5 40.8,342.33 41.1,339.5 C41.4,336.67 41.85,334.58 42.4,332.5 C42.95,330.42 43.38,328.88 44.4,327 C45.42,325.12 47.1,323.3 48.5,321.2 C49.9,319.1 51.1,316.63 52.8,314.4 C54.5,312.17 56.8,310 58.7,307.8 C60.6,305.6 62.37,303.58 64.2,301.2 C66.03,298.82 67.82,296.03 69.7,293.5 C71.58,290.97 73.65,288.08 75.5,286 C77.35,283.92 79.18,282.68 80.8,281 C82.42,279.32 83.5,277.93 85.2,275.9Z" stroke="#1a1a1a" stroke-width="0.9" stroke-dasharray="2.7 1.7 0.8 1.8" fill="none"/>
<path d="M207.8,285.4 C209.3,283.88 209.48,283.67 211,282.9 C212.52,282.13 214.93,281 216.9,280.8 C218.87,280.6 220.83,281.03 222.8,281.7 C224.77,282.37 227.08,283.58 228.7,284.8 C230.32,286.02 231.55,287.47 232.5,289 C233.45,290.53 234.1,292.4 234.4,294 C234.7,295.6 234.57,297.15 234.3,298.6 C234.03,300.05 234.13,300.75 232.8,302.7 C231.47,304.65 228.95,307.47 226.3,310.3 C223.65,313.13 219.63,316.95 216.9,319.7 C214.17,322.45 211.85,324.83 209.9,326.8 C207.95,328.77 207.93,328.97 205.2,331.5 C202.47,334.03 196.83,338.52 193.5,342 C190.17,345.48 187.95,349.07 185.2,352.4 C182.45,355.73 179.15,359.53 177,362 C174.85,364.47 175.07,364.18 172.3,367.2 C169.53,370.22 164.57,375.53 160.4,380.1 C156.23,384.67 151.68,390 147.3,394.6 C142.92,399.2 138.48,403.55 134.1,407.7 C129.72,411.85 125.38,415.88 121,419.5 C116.62,423.12 110.8,427.27 107.8,429.4 C104.8,431.53 104.55,431.45 103,432.3 C101.45,433.15 100.1,434 98.5,434.5 C96.9,435 94.93,435.3 93.4,435.3 C91.87,435.3 90.6,435.05 89.3,434.5 C88,433.95 86.65,433.13 85.6,432 C84.55,430.87 83.65,429.15 83,427.7 C82.35,426.25 81.88,424.78 81.7,423.3 C81.52,421.82 81.48,420.52 81.9,418.8 C82.32,417.08 82.72,415 84.2,413 C85.68,411 88.58,408.67 90.8,406.8 C93.02,404.93 95.77,403.12 97.5,401.8 C99.23,400.48 99.67,400.07 101.2,398.9 C102.73,397.73 105.15,396.15 106.7,394.8 C108.25,393.45 109.25,392.15 110.5,390.8 C111.75,389.45 112.88,388.32 114.2,386.7 C115.52,385.08 117,383.17 118.4,381.1 C119.8,379.03 121.02,376.93 122.6,374.3 C124.18,371.67 125.7,368.55 127.9,365.3 C130.1,362.05 133.47,357.87 135.8,354.8 C138.13,351.73 139.42,349.82 141.9,346.9 C144.38,343.98 147.78,340.45 150.7,337.3 C153.62,334.15 156.18,331.05 159.4,328 C162.62,324.95 166.57,321.83 170,319 C173.43,316.17 176.08,314.05 180,311 C183.92,307.95 189.83,303.87 193.5,300.7 C197.17,297.53 199.62,294.55 202,292 C204.38,289.45 206.3,286.92 207.8,285.4Z" stroke="#1a1a1a" stroke-width="0.9" stroke-dasharray="2.7 1.7 0.8 1.8" fill="none"/>
<path d="M207.8,332.5 C215,332.5 243.37,332.32 251,332.5 C258.63,332.68 252.9,332.93 253.6,333.6 C254.3,334.27 254.87,335.1 255.2,336.5 C255.53,337.9 255.53,339.08 255.6,342 C255.67,344.92 255.7,351.22 255.6,354 C255.5,356.78 255.52,357.47 255,358.7 C254.48,359.93 253.5,360.9 252.5,361.4 C251.5,361.9 258.58,361.65 249,361.7 C239.42,361.75 204.83,361.87 195,361.7 C185.17,361.53 191.42,361.27 190,360.7 C188.58,360.13 187.47,359.25 186.5,358.3 C185.53,357.35 184.58,355.55 184.2,355" stroke="#1a1a1a" stroke-width="0.9" stroke-dasharray="2.7 1.7 0.8 1.8" fill="none"/>
<path d="M182.6,419.4 C183.07,417.8 183.55,416.17 185.3,414.2 C187.05,412.23 189.6,410.23 193.1,407.6 C196.6,404.97 201.92,401.25 206.3,398.4 C210.68,395.55 215.02,392.9 219.4,390.5 C223.78,388.1 228.22,385.97 232.6,384 C236.98,382.03 242.2,379.92 245.7,378.7 C249.2,377.48 251.42,376.97 253.6,376.7 C255.78,376.43 257.37,376.6 258.8,377.1 C260.23,377.6 261.35,378.7 262.2,379.7 C263.05,380.7 263.58,381.95 263.9,383.1 C264.22,384.25 264.28,385.33 264.1,386.6 C263.92,387.87 263.23,389.6 262.8,390.7 C262.37,391.8 262.6,391.48 261.5,393.2 C260.4,394.92 258.18,397.95 256.2,401 C254.22,404.05 251.55,408.87 249.6,411.5 C247.65,414.13 245.8,415.48 244.5,416.8 C243.2,418.12 242.97,418.52 241.8,419.4 C240.63,420.28 239.03,421.33 237.5,422.1 C235.97,422.87 235.62,422.92 232.6,424 C229.58,425.08 223.78,427.17 219.4,428.6 C215.02,430.03 210.02,431.72 206.3,432.6 C202.58,433.48 199.73,433.8 197.1,433.9 C194.47,434 192.27,433.68 190.5,433.2 C188.73,432.72 187.58,431.92 186.5,431 C185.42,430.08 184.67,428.9 184,427.7 C183.33,426.5 182.73,425.18 182.5,423.8 C182.27,422.42 182.13,421 182.6,419.4Z" stroke="#1a1a1a" stroke-width="0.9" stroke-dasharray="2.7 1.7 0.8 1.8" fill="none"/>
<path d="M95.4,422.8 Q156.95,362.3 218.5,293" fill="none" stroke="#111" stroke-width="0.95" stroke-dasharray="2.6 1.5"/>
<text x="86.1" y="429.5" font-size="11.5">A</text>
<text x="221.4" y="294.1" font-size="11.5">A</text>
<line x1="232.4" y1="286.7" x2="232.4" y2="291.5" stroke="#333" stroke-width="0.6"/>
<line x1="230.32" y1="287.9" x2="234.48" y2="290.3" stroke="#333" stroke-width="0.6"/>
<line x1="234.48" y1="287.9" x2="230.32" y2="290.3" stroke="#333" stroke-width="0.6"/>
<text x="133.9" y="282.5" font-size="11.6" textLength="27.2" lengthAdjust="spacingAndGlyphs">Reg-1</text>
<text x="234.0" y="288.3" font-size="11.6" textLength="27.2" lengthAdjust="spacingAndGlyphs">Reg-2</text>
<text x="241.1" y="328.8" font-size="11.6" textLength="27.2" lengthAdjust="spacingAndGlyphs">Reg-3</text>
<text x="230.7" y="437.2" font-size="11.6" textLength="27.2" lengthAdjust="spacingAndGlyphs">Reg-4</text>
<rect x="27.5" y="260" width="259.3" height="216.5" fill="none" stroke="#777" stroke-width="0.9"/>
<rect x="30.3" y="262.9" width="254.1" height="210.8" fill="none" stroke="#666" stroke-width="0.9"/>
<line x1="27.5" y1="262.9" x2="30.3" y2="262.9" stroke="#777" stroke-width="0.9"/>
<line x1="284.4" y1="262.9" x2="286.8" y2="262.9" stroke="#777" stroke-width="0.9"/>
<line x1="27.5" y1="473.7" x2="30.3" y2="473.7" stroke="#777" stroke-width="0.9"/>
<line x1="284.4" y1="473.7" x2="286.8" y2="473.7" stroke="#777" stroke-width="0.9"/>
<line x1="30.3" y1="260" x2="30.3" y2="262.9" stroke="#777" stroke-width="0.9"/>
<line x1="284.4" y1="260" x2="284.4" y2="262.9" stroke="#777" stroke-width="0.9"/>
<line x1="30.3" y1="473.7" x2="30.3" y2="476.5" stroke="#777" stroke-width="0.9"/>
<line x1="284.4" y1="473.7" x2="284.4" y2="476.5" stroke="#777" stroke-width="0.9"/>
<rect x="44.5" y="260.4" width="29" height="2.5" fill="#000"/>
<rect x="44.5" y="473.9" width="29" height="2.5" fill="#000"/>
<rect x="102.5" y="260.4" width="29" height="2.5" fill="#000"/>
<rect x="102.5" y="473.9" width="29" height="2.5" fill="#000"/>
<rect x="160.5" y="260.4" width="29" height="2.5" fill="#000"/>
<rect x="160.5" y="473.9" width="29" height="2.5" fill="#000"/>
<rect x="218.5" y="260.4" width="29" height="2.5" fill="#000"/>
<rect x="218.5" y="473.9" width="29" height="2.5" fill="#000"/>
<rect x="276.5" y="260.4" width="7.9" height="2.5" fill="#000"/>
<rect x="276.5" y="473.9" width="7.9" height="2.5" fill="#000"/>
<rect x="27.9" y="291.97" width="2.4" height="29.51" fill="#000"/>
<rect x="284.2" y="291.97" width="2.8" height="29.51" fill="#000"/>
<rect x="27.9" y="351.58" width="2.4" height="30.88" fill="#000"/>
<rect x="284.2" y="351.58" width="2.8" height="30.88" fill="#000"/>
<rect x="27.9" y="414.32" width="2.4" height="33.06" fill="#000"/>
<rect x="284.2" y="414.32" width="2.8" height="33.06" fill="#000"/>
<text x="21.5" y="266.5" text-anchor="end" font-size="10.8">8<tspan font-size="7" dy="-2.5">°</tspan><tspan dy="2.5">S</tspan></text>
<text x="21.5" y="325.08" text-anchor="end" font-size="10.8">16<tspan font-size="7" dy="-2.5">°</tspan><tspan dy="2.5">S</tspan></text>
<text x="21.5" y="386.06" text-anchor="end" font-size="10.8">24<tspan font-size="7" dy="-2.5">°</tspan><tspan dy="2.5">S</tspan></text>
<text x="21.5" y="450.98" text-anchor="end" font-size="10.8">32<tspan font-size="7" dy="-2.5">°</tspan><tspan dy="2.5">S</tspan></text>
<text x="44.8" y="490.5" text-anchor="middle" font-size="10.8">40<tspan font-size="7" dy="-2.5">°</tspan><tspan dy="2.5">E</tspan></text>
<text x="102.8" y="490.5" text-anchor="middle" font-size="10.8">48<tspan font-size="7" dy="-2.5">°</tspan><tspan dy="2.5">E</tspan></text>
<text x="160.8" y="490.5" text-anchor="middle" font-size="10.8">56<tspan font-size="7" dy="-2.5">°</tspan><tspan dy="2.5">E</tspan></text>
<text x="218.8" y="490.5" text-anchor="middle" font-size="10.8">64<tspan font-size="7" dy="-2.5">°</tspan><tspan dy="2.5">E</tspan></text>
<text x="276.8" y="490.5" text-anchor="middle" font-size="10.8">72<tspan font-size="7" dy="-2.5">°</tspan><tspan dy="2.5">E</tspan></text>
<text x="33.8" y="465.1" font-size="22.5" textLength="25.6" lengthAdjust="spacingAndGlyphs">(b)</text>
<path d="M30.3,520.5 L39.5,520.5 L39.75,521.58 L40.2,522.6 L40.14,523.58 L40.5,524.5 L40.6,525.63 L41.2,526.6 L40.96,527.66 L41.5,528.6 L41.56,529.5 L41.67,530.38 L42.3,531.1 L42.97,531.92 L42.86,532.96 L43.1,533.9 L43.51,534.92 L44.5,535.4 L45.19,536.04 L45.83,536.76 L46.8,537 L47.68,537.59 L48,538.6 L48.3,540.1 L48.23,541.1 L48.33,542.12 L48,543.1 L48.04,543.93 L48.08,544.76 L48.66,545.54 L48.3,546.4 L48.48,547.35 L48.35,548.27 L47.7,549.14 L48,550.1 L47.82,551.04 L48.43,551.92 L47.91,552.88 L48.56,553.76 L48.3,554.7 L48.24,555.56 L48.74,556.38 L48.9,557.22 L48.5,558.1 L48.24,559.1 L48.91,560.03 L48.98,561.01 L48.8,562 L48.56,562.96 L48.84,563.8 L49.54,564.56 L49.13,565.55 L49.68,566.34 L49.9,567.2 L49.91,568.26 L50.5,569.22 L50.4,570.3 L49.81,571.15 L49.83,572.13 L49.8,573.1 L49.08,573.74 L48.81,574.56 L48.8,575.5 L48.45,576.31 L47.9,576.97 L47.3,577.6 L47.01,578.48 L46.49,579.19 L45.7,579.7 L45.36,580.6 L44.59,581.07 L43.77,581.49 L43.54,582.5 L42.6,582.8 L41.64,583.27 L40.95,584.12 L40,584.6 L39.45,585.21 L38.53,585.32 L38.06,586.04 L37.4,586.5 L36.48,586.96 L35.47,587.12 L34.5,587.4 L33.3,587.52 L32.2,588 L31.35,588.64 L30.3,588.5Z" fill="#bebebe"/>
<path d="M113.5,549.2 L114.09,549.98 L114.6,550.82 L115.2,551.6 L115.28,552.48 L115.92,553.09 L116.25,553.85 L116.6,554.6 L116.8,555.42 L117.33,556.13 L117.37,557 L117.55,557.83 L117.9,558.6 L117.96,559.56 L118.69,560.32 L118.81,561.26 L119.22,562.12 L119.2,563.1 L119.15,563.94 L119.39,564.73 L119.99,565.44 L119.51,566.37 L120,567.1 L119.53,568.21 L119.7,569.4 L119.47,570.18 L119.37,570.99 L119.56,571.84 L119.2,572.6 L119.33,573.67 L118.8,574.6 L118.46,575.34 L118.43,576.22 L118.02,576.94 L117.5,577.6 L116.74,577.24 L116.2,576.6 L115.3,576.9 L115.82,577.73 L115.72,578.69 L115.9,579.6 L115.79,580.48 L115.36,581.31 L115.44,582.22 L115.3,583.1 L114.98,584.03 L114.85,585 L114.51,585.92 L114.4,586.9 L114.23,587.71 L114.15,588.54 L113.46,589.22 L113.6,590.1 L112.97,590.96 L112.77,591.96 L112.7,593 L112.38,593.87 L112.48,594.82 L112.36,595.74 L112,596.6 L111.94,597.51 L111.89,598.42 L111.22,599.18 L111.2,600.1 L111.03,600.92 L110.49,601.63 L110.56,602.52 L109.93,603.21 L110,604.1 L109.53,604.85 L109.86,605.84 L109.48,606.62 L108.76,607.3 L108.8,608.2 L108.56,609.09 L107.96,609.86 L108.09,610.86 L108.05,611.8 L107.5,612.6 L107.15,613.45 L106.79,614.3 L106.87,615.29 L106.74,616.2 L106.2,617 L105.96,617.94 L105.2,618.68 L104.98,619.63 L104.8,620.6 L104.72,621.55 L104.32,622.36 L104.09,623.25 L103.5,624 L103.57,624.86 L102.85,625.49 L103.04,626.39 L102.6,627.1 L102.29,628.09 L102.1,629.11 L101.8,630.1 L101.78,631.03 L101.19,631.81 L101.38,632.79 L100.9,633.6 L100.58,634.45 L100.71,635.42 L100.28,636.24 L100,637.1 L99.93,638.15 L99.62,639.14 L99.2,640.1 L98.59,640.75 L98.4,641.56 L98.3,642.4 L98.06,643.42 L97.31,644.24 L97.2,645.3 L96.87,646.15 L96.26,646.81 L95.7,647.5 L94.84,647.91 L94.24,648.62 L93.6,649.3 L92.96,649.95 L91.91,649.8 L91.3,650.5 L90.46,650.96 L89.55,651.2 L88.6,651.3 L87.72,651.18 L86.88,651.55 L86,651.5 L85.12,651.54 L84.23,651.6 L83.4,651.2 L82.45,651.21 L81.68,650.61 L80.8,650.4 L79.91,650.12 L79.23,649.47 L78.4,649.1 L77.68,648.6 L77.05,647.99 L76.4,647.4 L76.22,646.32 L75.46,645.54 L75,644.6 L74.65,643.84 L74.43,643.01 L73.8,642.4 L73.26,641.58 L72.91,640.68 L72.8,639.7 L72.81,638.75 L72.48,637.9 L72,637.1 L71.53,636.05 L71.4,634.9 L71.04,633.88 L71.1,632.8 L70.81,631.64 L70.2,630.6 L70.3,629.44 L69.8,628.4 L69.46,627.5 L69.85,626.49 L69.4,625.6 L69.67,624.77 L69.47,623.93 L69.4,623.1 L69.61,622.15 L69.67,621.16 L70.2,620.3 L70.2,619.39 L71.1,618.81 L71.1,617.9 L71.37,617.04 L72.09,616.44 L72.4,615.6 L72.73,614.81 L73.52,614.33 L73.8,613.5 L74.19,612.79 L74.34,611.97 L74.8,611.3 L74.93,610.13 L75.5,609.1 L75.9,608.03 L76,606.9 L75.9,605.75 L76.4,604.7 L76.01,603.69 L76,602.6 L75.79,601.49 L75.5,600.4 L75.54,599.41 L75.18,598.52 L74.9,597.6 L74.65,596.78 L74.99,595.9 L74.6,595.1 L74.55,594.19 L74.57,593.29 L74.89,592.45 L75.2,591.6 L75.4,590.59 L75.37,589.53 L75.9,588.6 L75.75,587.78 L75.96,586.99 L76.18,586.2 L76.2,585.4 L76.15,584.38 L76.51,583.45 L76.8,582.5 L77.58,582.15 L78,581.4 L79.4,580.8 L80.42,581.41 L81.03,580.62 L81.82,580.46 L82.5,579.9 L83.54,579.75 L84.31,578.68 L85.5,579 L86.02,577.97 L86.78,577.7 L87.8,578.3 L89.17,578.47 L89.9,577.3 L90.83,577.22 L91.82,577.24 L92.2,576.1 L92.4,574.9 L93.74,575.3 L94.3,574.6 L94.91,574.01 L95.84,573.78 L96.2,572.9 L96.49,572.08 L97.94,572.3 L97.8,571.1 L97.91,569.76 L99.2,569.4 L99.87,568.55 L100.4,567.6 L101.27,566.97 L101.4,565.9 L102.46,565.29 L102.2,564.1 L102.99,563.37 L103,562.3 L103.77,561.62 L103.9,560.6 L104.89,560.15 L105.63,559.51 L105.6,558.3 L106,557.43 L107.05,557.12 L107.4,556.2 L108.68,555.68 L108.8,554.3 L109.93,553.9 L110,552.7 L110.49,551.93 L111.59,551.72 L111.8,550.7 L113.08,550.44Z" fill="#bebebe"/>
<ellipse cx="68.4" cy="547.1" rx="1.3" ry="2.0" fill="#bebebe"/>
<ellipse cx="75.0" cy="550.9" rx="0.8" ry="0.9" fill="#bebebe"/>
<ellipse cx="77.5" cy="553.3" rx="0.7" ry="0.8" fill="#bebebe"/>
<ellipse cx="81.6" cy="555.6" rx="0.8" ry="1.0" fill="#bebebe"/>
<circle cx="95.5" cy="530.9" r="5.2" fill="#d50000" fill-opacity="0.7"/>
<circle cx="115.8" cy="545.6" r="5.2" fill="#ffeb00" fill-opacity="0.7"/>
<circle cx="85" cy="553.1" r="5.2" fill="#ff4800" fill-opacity="0.7"/>
<circle cx="115.8" cy="555.9" r="5.2" fill="#ffeb00" fill-opacity="0.7"/>
<circle cx="126.8" cy="555.9" r="5.2" fill="#ffeb00" fill-opacity="0.7"/>
<circle cx="74" cy="564.1" r="5.2" fill="#ff9000" fill-opacity="0.7"/>
<circle cx="85" cy="564.3" r="5.2" fill="#d50000" fill-opacity="0.7"/>
<circle cx="126.8" cy="567" r="5.2" fill="#86d9ff" fill-opacity="0.7"/>
<circle cx="150" cy="564.2" r="5.2" fill="#9ceeff" fill-opacity="0.7"/>
<circle cx="62.8" cy="575.5" r="5.2" fill="#ffeb00" fill-opacity="0.7"/>
<circle cx="74" cy="575.5" r="5.2" fill="#d50000" fill-opacity="0.7"/>
<circle cx="51.8" cy="586.8" r="5.2" fill="#ff0000" fill-opacity="0.7"/>
<circle cx="74" cy="586.8" r="5.2" fill="#ceffff" fill-opacity="0.7"/>
<circle cx="105.1" cy="578.5" r="5.2" fill="#aff5ff" fill-opacity="0.7"/>
<circle cx="94" cy="589.7" r="5.2" fill="#ff9000" fill-opacity="0.7"/>
<circle cx="105.1" cy="589.7" r="5.2" fill="#ffeb00" fill-opacity="0.7"/>
<circle cx="94" cy="600.9" r="5.2" fill="#ff9000" fill-opacity="0.7"/>
<circle cx="105.1" cy="601" r="5.2" fill="#ffeb00" fill-opacity="0.7"/>
<circle cx="94" cy="611.9" r="5.2" fill="#ffeb00" fill-opacity="0.7"/>
<circle cx="105.1" cy="612.5" r="5.2" fill="#ffc400" fill-opacity="0.7"/>
<circle cx="95.5" cy="621.2" r="5.2" fill="#ff4800" fill-opacity="0.7"/>
<circle cx="105.1" cy="624" r="5.2" fill="#ffeb00" fill-opacity="0.7"/>
<circle cx="52.2" cy="620.6" r="5.2" fill="#5b0000" fill-opacity="0.7"/>
<circle cx="52.2" cy="632.6" r="5.2" fill="#ff4800" fill-opacity="0.7"/>
<circle cx="85" cy="632.7" r="5.2" fill="#9e0000" fill-opacity="0.7"/>
<circle cx="95.6" cy="632.7" r="5.2" fill="#9e0000" fill-opacity="0.7"/>
<circle cx="105.6" cy="635.2" r="5.2" fill="#ff9000" fill-opacity="0.7"/>
<circle cx="106.4" cy="644.4" r="5.2" fill="#ffeb00" fill-opacity="0.7"/>
<circle cx="128" cy="609.3" r="5.2" fill="#ff4800" fill-opacity="0.7"/>
<circle cx="117.2" cy="656.2" r="5.2" fill="#2050ff" fill-opacity="0.7"/>
<circle cx="106.4" cy="668.6" r="5.2" fill="#aff5ff" fill-opacity="0.7"/>
<circle cx="128.3" cy="632.6" r="5.2" fill="#2050ff" fill-opacity="0.7"/>
<circle cx="128.3" cy="644.2" r="5.2" fill="#040ed8" fill-opacity="0.7"/>
<circle cx="139.1" cy="620.9" r="5.2" fill="#ceffff" fill-opacity="0.7"/>
<circle cx="148.4" cy="612.9" r="5.2" fill="#ff9000" fill-opacity="0.7"/>
<circle cx="150.1" cy="609.4" r="5.2" fill="#ceffff" fill-opacity="0.7"/>
<circle cx="159.8" cy="612.4" r="5.2" fill="#ff0000" fill-opacity="0.7"/>
<circle cx="149.9" cy="620.8" r="5.2" fill="#ffc400" fill-opacity="0.7"/>
<circle cx="160.7" cy="620.8" r="5.2" fill="#fffe47" fill-opacity="0.7"/>
<circle cx="149.9" cy="632.5" r="5.2" fill="#fffe47" fill-opacity="0.7"/>
<circle cx="160.7" cy="632.5" r="5.2" fill="#fffe47" fill-opacity="0.7"/>
<circle cx="160.8" cy="597.9" r="5.2" fill="#4196ff" fill-opacity="0.7"/>
<circle cx="171.9" cy="586.6" r="5.2" fill="#aff5ff" fill-opacity="0.7"/>
<circle cx="169.6" cy="613.7" r="5.2" fill="#fffe47" fill-opacity="0.7"/>
<circle cx="171.9" cy="609.4" r="5.2" fill="#2050ff" fill-opacity="0.7"/>
<circle cx="182.7" cy="609.4" r="5.2" fill="#6dc1ff" fill-opacity="0.7"/>
<circle cx="193.5" cy="597.9" r="5.2" fill="#ceffff" fill-opacity="0.7"/>
<circle cx="193.5" cy="609.4" r="5.2" fill="#ceffff" fill-opacity="0.7"/>
<circle cx="204.5" cy="586.4" r="5.2" fill="#6dc1ff" fill-opacity="0.7"/>
<circle cx="204.6" cy="598" r="5.2" fill="#ff9000" fill-opacity="0.7"/>
<circle cx="215.3" cy="598" r="5.2" fill="#6dc1ff" fill-opacity="0.7"/>
<circle cx="224.7" cy="600.7" r="5.2" fill="#ff4800" fill-opacity="0.7"/>
<circle cx="236.8" cy="598" r="5.2" fill="#ff4800" fill-opacity="0.7"/>
<circle cx="247.6" cy="598" r="5.2" fill="#ff4800" fill-opacity="0.7"/>
<circle cx="204.6" cy="609.5" r="5.2" fill="#fffe47" fill-opacity="0.7"/>
<circle cx="215.3" cy="609.5" r="5.2" fill="#aff5ff" fill-opacity="0.7"/>
<circle cx="224.7" cy="612.2" r="5.2" fill="#d50000" fill-opacity="0.7"/>
<circle cx="236.8" cy="609.5" r="5.2" fill="#9e0000" fill-opacity="0.7"/>
<circle cx="247.6" cy="609.5" r="5.2" fill="#9e0000" fill-opacity="0.7"/>
<circle cx="258.9" cy="644.2" r="5.2" fill="#9e0000" fill-opacity="0.7"/>
<circle cx="226.2" cy="656.4" r="5.2" fill="#86d9ff" fill-opacity="0.7"/>
<circle cx="237.2" cy="656.4" r="5.2" fill="#6dc1ff" fill-opacity="0.7"/>
<circle cx="226.2" cy="668.4" r="5.2" fill="#ff4800" fill-opacity="0.7"/>
<circle cx="237.2" cy="668.4" r="5.2" fill="#ff4800" fill-opacity="0.7"/>
<circle cx="193.3" cy="680.5" r="5.2" fill="#ffeb00" fill-opacity="0.7"/>
<circle cx="226.2" cy="680.5" r="5.2" fill="#fffe47" fill-opacity="0.7"/>
<path d="M85.2,533.5 C86.9,531.47 89.3,527.98 91,526.4 C92.7,524.82 93.82,524.17 95.4,524 C96.98,523.83 98.12,524.43 100.5,525.4 C102.88,526.37 106.95,528.48 109.7,529.8 C112.45,531.12 114.47,531.97 117,533.3 C119.53,534.63 122.7,536.53 124.9,537.8 C127.1,539.07 128.1,539.6 130.2,540.9 C132.3,542.2 135.33,544.22 137.5,545.6 C139.67,546.98 141.58,548.12 143.2,549.2 C144.82,550.28 146.03,551.12 147.2,552.1 C148.37,553.08 149.27,554.02 150.2,555.1 C151.13,556.18 152.02,557.27 152.8,558.6 C153.58,559.93 154.42,561.68 154.9,563.1 C155.38,564.52 155.63,565.52 155.7,567.1 C155.77,568.68 155.82,570.52 155.3,572.6 C154.78,574.68 154.1,576.62 152.6,579.6 C151.1,582.58 148.38,587.08 146.3,590.5 C144.22,593.92 142.15,596.88 140.1,600.1 C138.05,603.32 135.88,606.87 134,609.8 C132.12,612.73 130.4,615.37 128.8,617.7 C127.2,620.03 125.62,622.03 124.4,623.8 C123.18,625.57 122.52,626.65 121.5,628.3 C120.48,629.95 119.42,631.8 118.3,633.7 C117.18,635.6 115.85,637.75 114.8,639.7 C113.75,641.65 113.05,643.62 112,645.4 C110.95,647.18 109.67,648.95 108.5,650.4 C107.33,651.85 106.17,653.18 105,654.1 C103.83,655.02 102.75,655.52 101.5,655.9 C100.25,656.28 99.65,656.5 97.5,656.4 C95.35,656.3 91.67,655.75 88.6,655.3 C85.53,654.85 82.88,654.45 79.1,653.7 C75.32,652.95 69.3,651.72 65.9,650.8 C62.5,649.88 61.1,649.32 58.7,648.2 C56.3,647.08 53.55,645.5 51.5,644.1 C49.45,642.7 47.77,641.47 46.4,639.8 C45.03,638.13 44.1,636.22 43.3,634.1 C42.5,631.98 42.05,630.27 41.6,627.1 C41.15,623.93 40.77,618.43 40.6,615.1 C40.43,611.77 40.52,610.1 40.6,607.1 C40.68,604.1 40.8,599.93 41.1,597.1 C41.4,594.27 41.85,592.18 42.4,590.1 C42.95,588.02 43.38,586.48 44.4,584.6 C45.42,582.72 47.1,580.9 48.5,578.8 C49.9,576.7 51.1,574.23 52.8,572 C54.5,569.77 56.8,567.6 58.7,565.4 C60.6,563.2 62.37,561.18 64.2,558.8 C66.03,556.42 67.82,553.63 69.7,551.1 C71.58,548.57 73.65,545.68 75.5,543.6 C77.35,541.52 79.18,540.28 80.8,538.6 C82.42,536.92 83.5,535.53 85.2,533.5Z" stroke="#1a1a1a" stroke-width="0.9" stroke-dasharray="2.7 1.7 0.8 1.8" fill="none"/>
<path d="M207.8,543 C209.3,541.48 209.48,541.27 211,540.5 C212.52,539.73 214.93,538.6 216.9,538.4 C218.87,538.2 220.83,538.63 222.8,539.3 C224.77,539.97 227.08,541.18 228.7,542.4 C230.32,543.62 231.55,545.07 232.5,546.6 C233.45,548.13 234.1,550 234.4,551.6 C234.7,553.2 234.57,554.75 234.3,556.2 C234.03,557.65 234.13,558.35 232.8,560.3 C231.47,562.25 228.95,565.07 226.3,567.9 C223.65,570.73 219.63,574.55 216.9,577.3 C214.17,580.05 211.85,582.43 209.9,584.4 C207.95,586.37 207.93,586.57 205.2,589.1 C202.47,591.63 196.83,596.12 193.5,599.6 C190.17,603.08 187.95,606.67 185.2,610 C182.45,613.33 179.15,617.13 177,619.6 C174.85,622.07 175.07,621.78 172.3,624.8 C169.53,627.82 164.57,633.13 160.4,637.7 C156.23,642.27 151.68,647.6 147.3,652.2 C142.92,656.8 138.48,661.15 134.1,665.3 C129.72,669.45 125.38,673.48 121,677.1 C116.62,680.72 110.8,684.87 107.8,687 C104.8,689.13 104.55,689.05 103,689.9 C101.45,690.75 100.1,691.6 98.5,692.1 C96.9,692.6 94.93,692.9 93.4,692.9 C91.87,692.9 90.6,692.65 89.3,692.1 C88,691.55 86.65,690.73 85.6,689.6 C84.55,688.47 83.65,686.75 83,685.3 C82.35,683.85 81.88,682.38 81.7,680.9 C81.52,679.42 81.48,678.12 81.9,676.4 C82.32,674.68 82.72,672.6 84.2,670.6 C85.68,668.6 88.58,666.27 90.8,664.4 C93.02,662.53 95.77,660.72 97.5,659.4 C99.23,658.08 99.67,657.67 101.2,656.5 C102.73,655.33 105.15,653.75 106.7,652.4 C108.25,651.05 109.25,649.75 110.5,648.4 C111.75,647.05 112.88,645.92 114.2,644.3 C115.52,642.68 117,640.77 118.4,638.7 C119.8,636.63 121.02,634.53 122.6,631.9 C124.18,629.27 125.7,626.15 127.9,622.9 C130.1,619.65 133.47,615.47 135.8,612.4 C138.13,609.33 139.42,607.42 141.9,604.5 C144.38,601.58 147.78,598.05 150.7,594.9 C153.62,591.75 156.18,588.65 159.4,585.6 C162.62,582.55 166.57,579.43 170,576.6 C173.43,573.77 176.08,571.65 180,568.6 C183.92,565.55 189.83,561.47 193.5,558.3 C197.17,555.13 199.62,552.15 202,549.6 C204.38,547.05 206.3,544.52 207.8,543Z" stroke="#1a1a1a" stroke-width="0.9" stroke-dasharray="2.7 1.7 0.8 1.8" fill="none"/>
<path d="M207.8,590.1 C215,590.1 243.37,589.92 251,590.1 C258.63,590.28 252.9,590.53 253.6,591.2 C254.3,591.87 254.87,592.7 255.2,594.1 C255.53,595.5 255.53,596.68 255.6,599.6 C255.67,602.52 255.7,608.82 255.6,611.6 C255.5,614.38 255.52,615.07 255,616.3 C254.48,617.53 253.5,618.5 252.5,619 C251.5,619.5 258.58,619.25 249,619.3 C239.42,619.35 204.83,619.47 195,619.3 C185.17,619.13 191.42,618.87 190,618.3 C188.58,617.73 187.47,616.85 186.5,615.9 C185.53,614.95 184.58,613.15 184.2,612.6" stroke="#1a1a1a" stroke-width="0.9" stroke-dasharray="2.7 1.7 0.8 1.8" fill="none"/>
<path d="M182.6,677 C183.07,675.4 183.55,673.77 185.3,671.8 C187.05,669.83 189.6,667.83 193.1,665.2 C196.6,662.57 201.92,658.85 206.3,656 C210.68,653.15 215.02,650.5 219.4,648.1 C223.78,645.7 228.22,643.57 232.6,641.6 C236.98,639.63 242.2,637.52 245.7,636.3 C249.2,635.08 251.42,634.57 253.6,634.3 C255.78,634.03 257.37,634.2 258.8,634.7 C260.23,635.2 261.35,636.3 262.2,637.3 C263.05,638.3 263.58,639.55 263.9,640.7 C264.22,641.85 264.28,642.93 264.1,644.2 C263.92,645.47 263.23,647.2 262.8,648.3 C262.37,649.4 262.6,649.08 261.5,650.8 C260.4,652.52 258.18,655.55 256.2,658.6 C254.22,661.65 251.55,666.47 249.6,669.1 C247.65,671.73 245.8,673.08 244.5,674.4 C243.2,675.72 242.97,676.12 241.8,677 C240.63,677.88 239.03,678.93 237.5,679.7 C235.97,680.47 235.62,680.52 232.6,681.6 C229.58,682.68 223.78,684.77 219.4,686.2 C215.02,687.63 210.02,689.32 206.3,690.2 C202.58,691.08 199.73,691.4 197.1,691.5 C194.47,691.6 192.27,691.28 190.5,690.8 C188.73,690.32 187.58,689.52 186.5,688.6 C185.42,687.68 184.67,686.5 184,685.3 C183.33,684.1 182.73,682.78 182.5,681.4 C182.27,680.02 182.13,678.6 182.6,677Z" stroke="#1a1a1a" stroke-width="0.9" stroke-dasharray="2.7 1.7 0.8 1.8" fill="none"/>
<path d="M95.4,680.4 Q156.95,619.9 218.5,550.6" fill="none" stroke="#111" stroke-width="0.95" stroke-dasharray="2.6 1.5"/>
<text x="86.1" y="687.1" font-size="11.5">A</text>
<text x="221.4" y="551.7" font-size="11.5">A</text>
<line x1="232.4" y1="544.3" x2="232.4" y2="549.1" stroke="#333" stroke-width="0.6"/>
<line x1="230.32" y1="545.5" x2="234.48" y2="547.9" stroke="#333" stroke-width="0.6"/>
<line x1="234.48" y1="545.5" x2="230.32" y2="547.9" stroke="#333" stroke-width="0.6"/>
<text x="133.9" y="540.1" font-size="11.6" textLength="27.2" lengthAdjust="spacingAndGlyphs">Reg-1</text>
<text x="234.0" y="545.9" font-size="11.6" textLength="27.2" lengthAdjust="spacingAndGlyphs">Reg-2</text>
<text x="241.1" y="586.4" font-size="11.6" textLength="27.2" lengthAdjust="spacingAndGlyphs">Reg-3</text>
<text x="230.7" y="694.8" font-size="11.6" textLength="27.2" lengthAdjust="spacingAndGlyphs">Reg-4</text>
<rect x="27.5" y="517.6" width="259.3" height="216.5" fill="none" stroke="#777" stroke-width="0.9"/>
<rect x="30.3" y="520.5" width="254.1" height="210.8" fill="none" stroke="#666" stroke-width="0.9"/>
<line x1="27.5" y1="520.5" x2="30.3" y2="520.5" stroke="#777" stroke-width="0.9"/>
<line x1="284.4" y1="520.5" x2="286.8" y2="520.5" stroke="#777" stroke-width="0.9"/>
<line x1="27.5" y1="731.3" x2="30.3" y2="731.3" stroke="#777" stroke-width="0.9"/>
<line x1="284.4" y1="731.3" x2="286.8" y2="731.3" stroke="#777" stroke-width="0.9"/>
<line x1="30.3" y1="517.6" x2="30.3" y2="520.5" stroke="#777" stroke-width="0.9"/>
<line x1="284.4" y1="517.6" x2="284.4" y2="520.5" stroke="#777" stroke-width="0.9"/>
<line x1="30.3" y1="731.3" x2="30.3" y2="734.1" stroke="#777" stroke-width="0.9"/>
<line x1="284.4" y1="731.3" x2="284.4" y2="734.1" stroke="#777" stroke-width="0.9"/>
<rect x="44.5" y="518" width="29" height="2.5" fill="#000"/>
<rect x="44.5" y="731.5" width="29" height="2.5" fill="#000"/>
<rect x="102.5" y="518" width="29" height="2.5" fill="#000"/>
<rect x="102.5" y="731.5" width="29" height="2.5" fill="#000"/>
<rect x="160.5" y="518" width="29" height="2.5" fill="#000"/>
<rect x="160.5" y="731.5" width="29" height="2.5" fill="#000"/>
<rect x="218.5" y="518" width="29" height="2.5" fill="#000"/>
<rect x="218.5" y="731.5" width="29" height="2.5" fill="#000"/>
<rect x="276.5" y="518" width="7.9" height="2.5" fill="#000"/>
<rect x="276.5" y="731.5" width="7.9" height="2.5" fill="#000"/>
<rect x="27.9" y="549.57" width="2.4" height="29.51" fill="#000"/>
<rect x="284.2" y="549.57" width="2.8" height="29.51" fill="#000"/>
<rect x="27.9" y="609.18" width="2.4" height="30.88" fill="#000"/>
<rect x="284.2" y="609.18" width="2.8" height="30.88" fill="#000"/>
<rect x="27.9" y="671.92" width="2.4" height="33.06" fill="#000"/>
<rect x="284.2" y="671.92" width="2.8" height="33.06" fill="#000"/>
<text x="21.5" y="524.1" text-anchor="end" font-size="10.8">8<tspan font-size="7" dy="-2.5">°</tspan><tspan dy="2.5">S</tspan></text>
<text x="21.5" y="582.68" text-anchor="end" font-size="10.8">16<tspan font-size="7" dy="-2.5">°</tspan><tspan dy="2.5">S</tspan></text>
<text x="21.5" y="643.66" text-anchor="end" font-size="10.8">24<tspan font-size="7" dy="-2.5">°</tspan><tspan dy="2.5">S</tspan></text>
<text x="21.5" y="708.58" text-anchor="end" font-size="10.8">32<tspan font-size="7" dy="-2.5">°</tspan><tspan dy="2.5">S</tspan></text>
<text x="44.8" y="748.1" text-anchor="middle" font-size="10.8">40<tspan font-size="7" dy="-2.5">°</tspan><tspan dy="2.5">E</tspan></text>
<text x="102.8" y="748.1" text-anchor="middle" font-size="10.8">48<tspan font-size="7" dy="-2.5">°</tspan><tspan dy="2.5">E</tspan></text>
<text x="160.8" y="748.1" text-anchor="middle" font-size="10.8">56<tspan font-size="7" dy="-2.5">°</tspan><tspan dy="2.5">E</tspan></text>
<text x="218.8" y="748.1" text-anchor="middle" font-size="10.8">64<tspan font-size="7" dy="-2.5">°</tspan><tspan dy="2.5">E</tspan></text>
<text x="276.8" y="748.1" text-anchor="middle" font-size="10.8">72<tspan font-size="7" dy="-2.5">°</tspan><tspan dy="2.5">E</tspan></text>
<text x="33.8" y="722.7" font-size="22.5" textLength="25.6" lengthAdjust="spacingAndGlyphs">(c)</text>
<rect x="293.8" y="129.1" width="13.5" height="5.81" fill="#040ed8"/>
<rect x="293.8" y="134.61" width="13.5" height="5.81" fill="#2050ff"/>
<rect x="293.8" y="140.12" width="13.5" height="5.81" fill="#4196ff"/>
<rect x="293.8" y="145.64" width="13.5" height="5.81" fill="#6dc1ff"/>
<rect x="293.8" y="151.15" width="13.5" height="5.81" fill="#86d9ff"/>
<rect x="293.8" y="156.66" width="13.5" height="5.81" fill="#9ceeff"/>
<rect x="293.8" y="162.18" width="13.5" height="5.81" fill="#aff5ff"/>
<rect x="293.8" y="167.69" width="13.5" height="5.81" fill="#ceffff"/>
<rect x="293.8" y="173.2" width="13.5" height="5.81" fill="#fffe47"/>
<rect x="293.8" y="178.71" width="13.5" height="5.81" fill="#ffeb00"/>
<rect x="293.8" y="184.23" width="13.5" height="5.81" fill="#ffc400"/>
<rect x="293.8" y="189.74" width="13.5" height="5.81" fill="#ff9000"/>
<rect x="293.8" y="195.25" width="13.5" height="5.81" fill="#ff4800"/>
<rect x="293.8" y="200.76" width="13.5" height="5.81" fill="#ff0000"/>
<rect x="293.8" y="206.28" width="13.5" height="5.81" fill="#d50000"/>
<rect x="293.8" y="211.79" width="13.5" height="5.81" fill="#9e0000"/>
<rect x="293.8" y="129.1" width="13.5" height="88.2" fill="none" stroke="#333" stroke-width="0.6"/>
<line x1="307.3" y1="206.28" x2="311" y2="206.28" stroke="#333" stroke-width="0.8"/>
<text x="316.2" y="209.68" font-size="9.8" textLength="13.9" lengthAdjust="spacingAndGlyphs">380</text>
<line x1="307.3" y1="184.23" x2="311" y2="184.23" stroke="#333" stroke-width="0.8"/>
<text x="316.2" y="187.63" font-size="9.8" textLength="13.9" lengthAdjust="spacingAndGlyphs">400</text>
<line x1="307.3" y1="162.18" x2="311" y2="162.18" stroke="#333" stroke-width="0.8"/>
<text x="316.2" y="165.58" font-size="9.8" textLength="13.9" lengthAdjust="spacingAndGlyphs">420</text>
<line x1="307.3" y1="140.12" x2="311" y2="140.12" stroke="#333" stroke-width="0.8"/>
<text x="316.2" y="143.53" font-size="9.8" textLength="13.9" lengthAdjust="spacingAndGlyphs">440</text>
<rect x="293.8" y="386.4" width="13.5" height="5.83" fill="#040ed8"/>
<rect x="293.8" y="391.93" width="13.5" height="5.83" fill="#2050ff"/>
<rect x="293.8" y="397.46" width="13.5" height="5.83" fill="#4196ff"/>
<rect x="293.8" y="402.99" width="13.5" height="5.83" fill="#6dc1ff"/>
<rect x="293.8" y="408.52" width="13.5" height="5.83" fill="#86d9ff"/>
<rect x="293.8" y="414.06" width="13.5" height="5.83" fill="#9ceeff"/>
<rect x="293.8" y="419.59" width="13.5" height="5.83" fill="#aff5ff"/>
<rect x="293.8" y="425.12" width="13.5" height="5.83" fill="#ceffff"/>
<rect x="293.8" y="430.65" width="13.5" height="5.83" fill="#fffe47"/>
<rect x="293.8" y="436.18" width="13.5" height="5.83" fill="#ffeb00"/>
<rect x="293.8" y="441.71" width="13.5" height="5.83" fill="#ffc400"/>
<rect x="293.8" y="447.24" width="13.5" height="5.83" fill="#ff9000"/>
<rect x="293.8" y="452.77" width="13.5" height="5.83" fill="#ff4800"/>
<rect x="293.8" y="458.31" width="13.5" height="5.83" fill="#ff0000"/>
<rect x="293.8" y="463.84" width="13.5" height="5.83" fill="#d50000"/>
<rect x="293.8" y="469.37" width="13.5" height="5.83" fill="#9e0000"/>
<rect x="293.8" y="386.4" width="13.5" height="88.5" fill="none" stroke="#333" stroke-width="0.6"/>
<line x1="307.3" y1="474.9" x2="311" y2="474.9" stroke="#333" stroke-width="0.8"/>
<text x="316.2" y="478.3" font-size="9.8" textLength="13.9" lengthAdjust="spacingAndGlyphs">620</text>
<line x1="307.3" y1="452.77" x2="311" y2="452.77" stroke="#333" stroke-width="0.8"/>
<text x="316.2" y="456.17" font-size="9.8" textLength="13.9" lengthAdjust="spacingAndGlyphs">640</text>
<line x1="307.3" y1="430.65" x2="311" y2="430.65" stroke="#333" stroke-width="0.8"/>
<text x="316.2" y="434.05" font-size="9.8" textLength="13.9" lengthAdjust="spacingAndGlyphs">660</text>
<line x1="307.3" y1="408.52" x2="311" y2="408.52" stroke="#333" stroke-width="0.8"/>
<text x="316.2" y="411.92" font-size="9.8" textLength="13.9" lengthAdjust="spacingAndGlyphs">680</text>
<line x1="307.3" y1="386.4" x2="311" y2="386.4" stroke="#333" stroke-width="0.8"/>
<text x="316.2" y="389.8" font-size="9.8" textLength="13.9" lengthAdjust="spacingAndGlyphs">700</text>
<rect x="293.8" y="644.1" width="13.5" height="5.82" fill="#040ed8"/>
<rect x="293.8" y="649.62" width="13.5" height="5.82" fill="#2050ff"/>
<rect x="293.8" y="655.15" width="13.5" height="5.82" fill="#4196ff"/>
<rect x="293.8" y="660.68" width="13.5" height="5.82" fill="#6dc1ff"/>
<rect x="293.8" y="666.2" width="13.5" height="5.82" fill="#86d9ff"/>
<rect x="293.8" y="671.73" width="13.5" height="5.82" fill="#9ceeff"/>
<rect x="293.8" y="677.25" width="13.5" height="5.82" fill="#aff5ff"/>
<rect x="293.8" y="682.77" width="13.5" height="5.82" fill="#ceffff"/>
<rect x="293.8" y="688.3" width="13.5" height="5.82" fill="#fffe47"/>
<rect x="293.8" y="693.83" width="13.5" height="5.82" fill="#ffeb00"/>
<rect x="293.8" y="699.35" width="13.5" height="5.82" fill="#ffc400"/>
<rect x="293.8" y="704.88" width="13.5" height="5.82" fill="#ff9000"/>
<rect x="293.8" y="710.4" width="13.5" height="5.82" fill="#ff4800"/>
<rect x="293.8" y="715.92" width="13.5" height="5.82" fill="#ff0000"/>
<rect x="293.8" y="721.45" width="13.5" height="5.82" fill="#d50000"/>
<rect x="293.8" y="726.98" width="13.5" height="5.82" fill="#9e0000"/>
<rect x="293.8" y="644.1" width="13.5" height="88.4" fill="none" stroke="#333" stroke-width="0.6"/>
<line x1="307.3" y1="728.27" x2="311" y2="728.27" stroke="#333" stroke-width="0.8"/>
<text x="316.2" y="731.67" font-size="9.8" textLength="13.9" lengthAdjust="spacingAndGlyphs">200</text>
<line x1="307.3" y1="712.31" x2="311" y2="712.31" stroke="#333" stroke-width="0.8"/>
<text x="316.2" y="715.71" font-size="9.8" textLength="13.9" lengthAdjust="spacingAndGlyphs">220</text>
<line x1="307.3" y1="696.36" x2="311" y2="696.36" stroke="#333" stroke-width="0.8"/>
<text x="316.2" y="699.76" font-size="9.8" textLength="13.9" lengthAdjust="spacingAndGlyphs">240</text>
<line x1="307.3" y1="680.4" x2="311" y2="680.4" stroke="#333" stroke-width="0.8"/>
<text x="316.2" y="683.8" font-size="9.8" textLength="13.9" lengthAdjust="spacingAndGlyphs">260</text>
<line x1="307.3" y1="664.44" x2="311" y2="664.44" stroke="#333" stroke-width="0.8"/>
<text x="316.2" y="667.84" font-size="9.8" textLength="13.9" lengthAdjust="spacingAndGlyphs">280</text>
<line x1="307.3" y1="648.49" x2="311" y2="648.49" stroke="#333" stroke-width="0.8"/>
<text x="316.2" y="651.89" font-size="9.8" textLength="13.9" lengthAdjust="spacingAndGlyphs">300</text>
<text transform="translate(342.3,173.2) rotate(-90)" text-anchor="middle" font-size="11">km</text>
<text transform="translate(342.3,430.6) rotate(-90)" text-anchor="middle" font-size="11">km</text>
<text transform="translate(342.3,688.3) rotate(-90)" text-anchor="middle" font-size="11">km</text>
<polygon points="412.4,89.9 413.7,89.2 415,88.5 416.07,87.6 417.13,86.7 418.2,85.8 419.13,84.53 420.07,83.27 421,82 422.3,79 423.3,78.7 424.4,82 425.5,80.5 427,77.8 428.4,77 429.7,77.1 431,77.2 432.25,77.55 433.5,77.9 434.4,79.7 435.3,81.5 436.6,85.8 438.2,91.5 439.6,98.1 441.2,105 442.7,111.4 443.5,112.8 444.4,115.4 445.3,118 446.6,120.2 447.9,122.4 449.2,124.15 450.5,125.9 451.5,125.35 452.5,124.8 454,125.9 455.17,125.6 456.33,125.3 457.5,125 458.67,125.6 459.83,126.2 461,126.48 462,126.3 463,127.33 464,126.42 465,127.38 466,127.2 467,126.78 468,127.71 468.95,126.81 469.91,127.47 470.86,126.76 471.82,126.75 472.77,127.29 473.73,127.96 474.68,126.64 475.64,126.77 476.59,127.44 477.55,127.96 478.5,127.24 479.42,126.83 480.33,127.79 481.25,126.03 482.17,127.41 483.08,126.3 484,126.6 485.1,126.37 486.2,126.13 487.3,125.26 488.36,125.45 489.42,126.04 490.48,127.19 491.54,126.29 492.6,127.25 493.6,127.18 494.6,126.53 495.6,126.67 496.6,125.63 497.6,125.45 498.6,125.54 499.6,126.22 500.6,125.53 501.6,125.08 502.6,125.33 503.6,124.84 504.6,124.33 505.6,124.97 506.6,124.2 507.9,125.95 509.2,127.7 510.1,122.85 511,118.36 512.08,117.34 513.15,117.73 514.22,117.45 515.3,117.88 516.3,117.48 517.3,116.56 518.3,117.68 519.3,116 520.3,116.41 521.3,116.89 522.3,116.3 523.2,110.1 524.1,113.87 525.1,114.24 526.1,113.18 527.1,114.07 528.1,114 529.1,113.42 530.1,113.72 531.1,112.8 532,106.6 532.9,111.56 533.92,112.1 534.93,111.77 535.95,111.59 536.97,111.22 537.98,111.76 539,111 539.9,108.4 540.7,112.7 541.8,111.63 542.9,111.75 544,110.43 545.1,111 546.27,109.27 547.43,107.53 548.6,105.8 549.9,101.4 551.2,97 553,90 553.8,69.9 554.85,54 555.9,38.1 557.4,16.9 558.6,6.4 560.1,14.8 561.2,38.1 562.2,63.5 563.7,76.2 565.4,78.3 567.1,93.1 568.35,100.55 569.6,108 570.67,109.77 571.73,111.53 572.8,113.3 573.86,113.5 574.92,113.7 575.98,113.9 577.04,114.1 578.1,114.3 579.02,114.44 579.95,114.58 580.88,114.71 581.8,114.85 582.73,114.99 583.65,115.12 584.58,115.26 585.5,115.4 587,101.6 588.05,88.9 589.1,76.2 590.8,59.3 591.85,55.05 592.9,50.8 594.2,46.35 595.5,41.9 597.2,52.9 598.25,58.2 599.3,63.5 600.55,77.25 601.8,91 603.5,69.9 604.55,60.35 605.6,50.8 607.3,50.8 608.8,67.7 609.85,80.4 610.9,93.1 611.97,97 613.03,100.9 614.1,104.8 615.17,101.63 616.23,98.47 617.3,95.3 618.33,88.23 619.37,81.17 620.4,74.1 621.47,70.57 622.53,67.03 623.6,63.5 624.65,56.1 625.7,48.7 627.2,37.7 628.13,38.9 629.07,40.1 630,40.63 631.06,40.63 632.12,40.66 633.18,41.31 634.24,39.67 635.3,40.11 636.2,40.29 637.1,40.89 638,40.77 638.9,40.86 639.8,39.8 640.7,40.05 641.6,39.95 642.65,41.17 643.7,41.57 644.75,40.4 645.8,41.3 646.9,43.4 648,45.5 649.05,43.9 650.1,41.72 651.03,41.71 651.97,41.6 652.9,41.94 653.83,42.02 654.77,41.32 655.7,40.74 656.63,41.38 657.57,41.18 658.5,41.42 659.41,41.82 660.33,41.04 661.24,40.43 662.16,40.31 663.07,40.12 663.99,38.7 664.9,39.2 666.6,38.1 667.6,78.3 668.9,80.95 670.2,83.6 671.27,84.67 672.33,85.73 673.4,86.8 674.43,88.9 675.47,91 676.5,93.1 677.7,95 677.7,134.3 412.4,134.3" fill="#cdc9a5"/>
<line x1="412.4" y1="37.5" x2="677.7" y2="37.5" stroke="#222" stroke-width="1" stroke-dasharray="7.8 2.4"/>
<polyline points="412.4,1.5 412.4,134.3 677.7,134.3 677.7,1.5" fill="none" stroke="#444" stroke-width="1"/>
<line x1="412.4" y1="10.42" x2="417.4" y2="10.42" stroke="#444" stroke-width="0.9"/>
<line x1="677.7" y1="10.42" x2="672.7" y2="10.42" stroke="#444" stroke-width="0.9"/>
<text x="407.8" y="14.52" text-anchor="end" font-size="12">1.5</text>
<line x1="412.4" y1="37" x2="417.4" y2="37" stroke="#444" stroke-width="0.9"/>
<line x1="677.7" y1="37" x2="672.7" y2="37" stroke="#444" stroke-width="0.9"/>
<text x="407.8" y="41.1" text-anchor="end" font-size="12">0.0</text>
<line x1="412.4" y1="63.58" x2="417.4" y2="63.58" stroke="#444" stroke-width="0.9"/>
<line x1="677.7" y1="63.58" x2="672.7" y2="63.58" stroke="#444" stroke-width="0.9"/>
<text x="407.8" y="67.68" text-anchor="end" font-size="12">−1.5</text>
<line x1="412.4" y1="90.16" x2="417.4" y2="90.16" stroke="#444" stroke-width="0.9"/>
<line x1="677.7" y1="90.16" x2="672.7" y2="90.16" stroke="#444" stroke-width="0.9"/>
<text x="407.8" y="94.26" text-anchor="end" font-size="12">−3.0</text>
<line x1="412.4" y1="116.74" x2="417.4" y2="116.74" stroke="#444" stroke-width="0.9"/>
<line x1="677.7" y1="116.74" x2="672.7" y2="116.74" stroke="#444" stroke-width="0.9"/>
<text x="407.8" y="120.84" text-anchor="end" font-size="12">−4.5</text>
<line x1="412.4" y1="1.56" x2="415.1" y2="1.56" stroke="#444" stroke-width="0.9"/>
<line x1="677.7" y1="1.56" x2="675" y2="1.56" stroke="#444" stroke-width="0.9"/>
<line x1="412.4" y1="19.28" x2="415.1" y2="19.28" stroke="#444" stroke-width="0.9"/>
<line x1="677.7" y1="19.28" x2="675" y2="19.28" stroke="#444" stroke-width="0.9"/>
<line x1="412.4" y1="28.14" x2="415.1" y2="28.14" stroke="#444" stroke-width="0.9"/>
<line x1="677.7" y1="28.14" x2="675" y2="28.14" stroke="#444" stroke-width="0.9"/>
<line x1="412.4" y1="45.86" x2="415.1" y2="45.86" stroke="#444" stroke-width="0.9"/>
<line x1="677.7" y1="45.86" x2="675" y2="45.86" stroke="#444" stroke-width="0.9"/>
<line x1="412.4" y1="54.72" x2="415.1" y2="54.72" stroke="#444" stroke-width="0.9"/>
<line x1="677.7" y1="54.72" x2="675" y2="54.72" stroke="#444" stroke-width="0.9"/>
<line x1="412.4" y1="72.44" x2="415.1" y2="72.44" stroke="#444" stroke-width="0.9"/>
<line x1="677.7" y1="72.44" x2="675" y2="72.44" stroke="#444" stroke-width="0.9"/>
<line x1="412.4" y1="81.3" x2="415.1" y2="81.3" stroke="#444" stroke-width="0.9"/>
<line x1="677.7" y1="81.3" x2="675" y2="81.3" stroke="#444" stroke-width="0.9"/>
<line x1="412.4" y1="99.02" x2="415.1" y2="99.02" stroke="#444" stroke-width="0.9"/>
<line x1="677.7" y1="99.02" x2="675" y2="99.02" stroke="#444" stroke-width="0.9"/>
<line x1="412.4" y1="107.88" x2="415.1" y2="107.88" stroke="#444" stroke-width="0.9"/>
<line x1="677.7" y1="107.88" x2="675" y2="107.88" stroke="#444" stroke-width="0.9"/>
<line x1="412.4" y1="125.6" x2="415.1" y2="125.6" stroke="#444" stroke-width="0.9"/>
<line x1="677.7" y1="125.6" x2="675" y2="125.6" stroke="#444" stroke-width="0.9"/>
<text x="412.4" y="147.9" text-anchor="middle" font-size="12">0</text>
<line x1="445.56" y1="134.3" x2="445.56" y2="131.3" stroke="#444" stroke-width="0.9"/>
<line x1="478.73" y1="134.3" x2="478.73" y2="129.8" stroke="#444" stroke-width="0.9"/>
<text x="478.73" y="147.9" text-anchor="middle" font-size="12">5</text>
<line x1="511.89" y1="134.3" x2="511.89" y2="131.3" stroke="#444" stroke-width="0.9"/>
<line x1="545.05" y1="134.3" x2="545.05" y2="129.8" stroke="#444" stroke-width="0.9"/>
<text x="545.05" y="147.9" text-anchor="middle" font-size="12">10</text>
<line x1="578.21" y1="134.3" x2="578.21" y2="131.3" stroke="#444" stroke-width="0.9"/>
<line x1="611.38" y1="134.3" x2="611.38" y2="129.8" stroke="#444" stroke-width="0.9"/>
<text x="611.38" y="147.9" text-anchor="middle" font-size="12">15</text>
<line x1="644.54" y1="134.3" x2="644.54" y2="131.3" stroke="#444" stroke-width="0.9"/>
<text x="677.7" y="147.9" text-anchor="middle" font-size="12">20</text>
<text x="545.2" y="167.5" text-anchor="middle" font-size="14.2">Distance from A (°)</text>
<text transform="translate(375.8,67.9) rotate(-90)" text-anchor="middle" font-size="14">Elevation (km)</text>
<text x="416.7" y="123.5" font-size="22.4">(d)</text>
<line x1="412.4" y1="200.5" x2="417.4" y2="200.5" stroke="#444" stroke-width="0.9"/>
<line x1="677.7" y1="200.5" x2="672.7" y2="200.5" stroke="#444" stroke-width="0.9"/>
<text x="407.8" y="204.6" text-anchor="end" font-size="12">360</text>
<line x1="412.4" y1="227.02" x2="417.4" y2="227.02" stroke="#444" stroke-width="0.9"/>
<line x1="677.7" y1="227.02" x2="672.7" y2="227.02" stroke="#444" stroke-width="0.9"/>
<text x="407.8" y="231.12" text-anchor="end" font-size="12">380</text>
<line x1="412.4" y1="253.54" x2="417.4" y2="253.54" stroke="#444" stroke-width="0.9"/>
<line x1="677.7" y1="253.54" x2="672.7" y2="253.54" stroke="#444" stroke-width="0.9"/>
<text x="407.8" y="257.64" text-anchor="end" font-size="12">400</text>
<line x1="412.4" y1="280.06" x2="417.4" y2="280.06" stroke="#444" stroke-width="0.9"/>
<line x1="677.7" y1="280.06" x2="672.7" y2="280.06" stroke="#444" stroke-width="0.9"/>
<text x="407.8" y="284.16" text-anchor="end" font-size="12">420</text>
<line x1="412.4" y1="306.58" x2="417.4" y2="306.58" stroke="#444" stroke-width="0.9"/>
<line x1="677.7" y1="306.58" x2="672.7" y2="306.58" stroke="#444" stroke-width="0.9"/>
<text x="407.8" y="310.68" text-anchor="end" font-size="12">440</text>
<line x1="412.4" y1="333.1" x2="417.4" y2="333.1" stroke="#444" stroke-width="0.9"/>
<line x1="677.7" y1="333.1" x2="672.7" y2="333.1" stroke="#444" stroke-width="0.9"/>
<text x="407.8" y="337.2" text-anchor="end" font-size="12">460</text>
<line x1="412.4" y1="213.76" x2="415.1" y2="213.76" stroke="#444" stroke-width="0.9"/>
<line x1="677.7" y1="213.76" x2="675" y2="213.76" stroke="#444" stroke-width="0.9"/>
<line x1="412.4" y1="240.28" x2="415.1" y2="240.28" stroke="#444" stroke-width="0.9"/>
<line x1="677.7" y1="240.28" x2="675" y2="240.28" stroke="#444" stroke-width="0.9"/>
<line x1="412.4" y1="266.8" x2="415.1" y2="266.8" stroke="#444" stroke-width="0.9"/>
<line x1="677.7" y1="266.8" x2="675" y2="266.8" stroke="#444" stroke-width="0.9"/>
<line x1="412.4" y1="293.32" x2="415.1" y2="293.32" stroke="#444" stroke-width="0.9"/>
<line x1="677.7" y1="293.32" x2="675" y2="293.32" stroke="#444" stroke-width="0.9"/>
<line x1="412.4" y1="319.84" x2="415.1" y2="319.84" stroke="#444" stroke-width="0.9"/>
<line x1="677.7" y1="319.84" x2="675" y2="319.84" stroke="#444" stroke-width="0.9"/>
<text x="412.4" y="346.7" text-anchor="middle" font-size="12">0</text>
<line x1="445.56" y1="333.1" x2="445.56" y2="330.1" stroke="#444" stroke-width="0.9"/>
<line x1="445.56" y1="200.5" x2="445.56" y2="203.5" stroke="#444" stroke-width="0.9"/>
<line x1="478.73" y1="333.1" x2="478.73" y2="328.6" stroke="#444" stroke-width="0.9"/>
<line x1="478.73" y1="200.5" x2="478.73" y2="205" stroke="#444" stroke-width="0.9"/>
<text x="478.73" y="346.7" text-anchor="middle" font-size="12">5</text>
<line x1="511.89" y1="333.1" x2="511.89" y2="330.1" stroke="#444" stroke-width="0.9"/>
<line x1="511.89" y1="200.5" x2="511.89" y2="203.5" stroke="#444" stroke-width="0.9"/>
<line x1="545.05" y1="333.1" x2="545.05" y2="328.6" stroke="#444" stroke-width="0.9"/>
<line x1="545.05" y1="200.5" x2="545.05" y2="205" stroke="#444" stroke-width="0.9"/>
<text x="545.05" y="346.7" text-anchor="middle" font-size="12">10</text>
<line x1="578.21" y1="333.1" x2="578.21" y2="330.1" stroke="#444" stroke-width="0.9"/>
<line x1="578.21" y1="200.5" x2="578.21" y2="203.5" stroke="#444" stroke-width="0.9"/>
<line x1="611.38" y1="333.1" x2="611.38" y2="328.6" stroke="#444" stroke-width="0.9"/>
<line x1="611.38" y1="200.5" x2="611.38" y2="205" stroke="#444" stroke-width="0.9"/>
<text x="611.38" y="346.7" text-anchor="middle" font-size="12">15</text>
<line x1="644.54" y1="333.1" x2="644.54" y2="330.1" stroke="#444" stroke-width="0.9"/>
<line x1="644.54" y1="200.5" x2="644.54" y2="203.5" stroke="#444" stroke-width="0.9"/>
<text x="677.7" y="346.7" text-anchor="middle" font-size="12">20</text>
<text x="545.2" y="366.3" text-anchor="middle" font-size="14.2">Distance from A (°)</text>
<line x1="412.4" y1="266.9" x2="677.7" y2="266.9" stroke="#ec8585" stroke-width="1.9" stroke-dasharray="7.4 2.98"/>
<line x1="438.5" y1="236.4" x2="438.5" y2="245.5" stroke="#7a7a7a" stroke-width="1"/>
<line x1="433.4" y1="236.4" x2="443.6" y2="236.4" stroke="#8a8a8a" stroke-width="1"/>
<line x1="433.4" y1="245.5" x2="443.6" y2="245.5" stroke="#8a8a8a" stroke-width="1"/>
<line x1="465.4" y1="203.6" x2="465.4" y2="223.6" stroke="#7a7a7a" stroke-width="1"/>
<line x1="460.3" y1="203.6" x2="470.5" y2="203.6" stroke="#8a8a8a" stroke-width="1"/>
<line x1="460.3" y1="223.6" x2="470.5" y2="223.6" stroke="#8a8a8a" stroke-width="1"/>
<line x1="491.9" y1="218.3" x2="491.9" y2="235.1" stroke="#7a7a7a" stroke-width="1"/>
<line x1="486.8" y1="218.3" x2="497" y2="218.3" stroke="#8a8a8a" stroke-width="1"/>
<line x1="486.8" y1="235.1" x2="497" y2="235.1" stroke="#8a8a8a" stroke-width="1"/>
<line x1="506.5" y1="225.5" x2="506.5" y2="244.3" stroke="#7a7a7a" stroke-width="1"/>
<line x1="501.4" y1="225.5" x2="511.6" y2="225.5" stroke="#8a8a8a" stroke-width="1"/>
<line x1="501.4" y1="244.3" x2="511.6" y2="244.3" stroke="#8a8a8a" stroke-width="1"/>
<line x1="533.6" y1="248.9" x2="533.6" y2="259.2" stroke="#7a7a7a" stroke-width="1"/>
<line x1="528.5" y1="248.9" x2="538.7" y2="248.9" stroke="#8a8a8a" stroke-width="1"/>
<line x1="528.5" y1="259.2" x2="538.7" y2="259.2" stroke="#8a8a8a" stroke-width="1"/>
<line x1="531.8" y1="264.2" x2="531.8" y2="272.8" stroke="#7a7a7a" stroke-width="1"/>
<line x1="526.7" y1="264.2" x2="536.9" y2="264.2" stroke="#8a8a8a" stroke-width="1"/>
<line x1="526.7" y1="272.8" x2="536.9" y2="272.8" stroke="#8a8a8a" stroke-width="1"/>
<line x1="546.3" y1="264.5" x2="546.3" y2="298.2" stroke="#7a7a7a" stroke-width="1"/>
<line x1="541.2" y1="264.5" x2="551.4" y2="264.5" stroke="#8a8a8a" stroke-width="1"/>
<line x1="541.2" y1="298.2" x2="551.4" y2="298.2" stroke="#8a8a8a" stroke-width="1"/>
<line x1="544.4" y1="298.2" x2="544.4" y2="328.6" stroke="#7a7a7a" stroke-width="1"/>
<line x1="539.3" y1="298.2" x2="549.5" y2="298.2" stroke="#8a8a8a" stroke-width="1"/>
<line x1="539.3" y1="328.6" x2="549.5" y2="328.6" stroke="#8a8a8a" stroke-width="1"/>
<line x1="554.9" y1="269.1" x2="554.9" y2="280.3" stroke="#7a7a7a" stroke-width="1"/>
<line x1="549.8" y1="269.1" x2="560" y2="269.1" stroke="#8a8a8a" stroke-width="1"/>
<line x1="549.8" y1="280.3" x2="560" y2="280.3" stroke="#8a8a8a" stroke-width="1"/>
<line x1="559" y1="269.1" x2="559" y2="280.3" stroke="#7a7a7a" stroke-width="1"/>
<line x1="553.9" y1="269.1" x2="564.1" y2="269.1" stroke="#8a8a8a" stroke-width="1"/>
<line x1="553.9" y1="280.3" x2="564.1" y2="280.3" stroke="#8a8a8a" stroke-width="1"/>
<line x1="560.9" y1="282.7" x2="560.9" y2="296.4" stroke="#7a7a7a" stroke-width="1"/>
<line x1="555.8" y1="282.7" x2="566" y2="282.7" stroke="#8a8a8a" stroke-width="1"/>
<line x1="555.8" y1="296.4" x2="566" y2="296.4" stroke="#8a8a8a" stroke-width="1"/>
<line x1="567.7" y1="254.5" x2="567.7" y2="282.5" stroke="#7a7a7a" stroke-width="1"/>
<line x1="562.6" y1="254.5" x2="572.8" y2="254.5" stroke="#8a8a8a" stroke-width="1"/>
<line x1="562.6" y1="282.5" x2="572.8" y2="282.5" stroke="#8a8a8a" stroke-width="1"/>
<line x1="580" y1="261.6" x2="580" y2="269.3" stroke="#7a7a7a" stroke-width="1"/>
<line x1="574.9" y1="261.6" x2="585.1" y2="261.6" stroke="#8a8a8a" stroke-width="1"/>
<line x1="574.9" y1="269.3" x2="585.1" y2="269.3" stroke="#8a8a8a" stroke-width="1"/>
<line x1="586.1" y1="210.5" x2="586.1" y2="227.5" stroke="#7a7a7a" stroke-width="1"/>
<line x1="581" y1="210.5" x2="591.2" y2="210.5" stroke="#8a8a8a" stroke-width="1"/>
<line x1="581" y1="227.5" x2="591.2" y2="227.5" stroke="#8a8a8a" stroke-width="1"/>
<line x1="587.9" y1="232.4" x2="587.9" y2="259.3" stroke="#7a7a7a" stroke-width="1"/>
<line x1="582.8" y1="232.4" x2="593" y2="232.4" stroke="#8a8a8a" stroke-width="1"/>
<line x1="582.8" y1="259.3" x2="593" y2="259.3" stroke="#8a8a8a" stroke-width="1"/>
<line x1="598.3" y1="237.5" x2="598.3" y2="255.8" stroke="#7a7a7a" stroke-width="1"/>
<line x1="593.2" y1="237.5" x2="603.4" y2="237.5" stroke="#8a8a8a" stroke-width="1"/>
<line x1="593.2" y1="255.8" x2="603.4" y2="255.8" stroke="#8a8a8a" stroke-width="1"/>
<line x1="615.6" y1="234.8" x2="615.6" y2="250.7" stroke="#7a7a7a" stroke-width="1"/>
<line x1="610.5" y1="234.8" x2="620.7" y2="234.8" stroke="#8a8a8a" stroke-width="1"/>
<line x1="610.5" y1="250.7" x2="620.7" y2="250.7" stroke="#8a8a8a" stroke-width="1"/>
<line x1="626" y1="203.6" x2="626" y2="231.5" stroke="#7a7a7a" stroke-width="1"/>
<line x1="620.9" y1="203.6" x2="631.1" y2="203.6" stroke="#8a8a8a" stroke-width="1"/>
<line x1="620.9" y1="231.5" x2="631.1" y2="231.5" stroke="#8a8a8a" stroke-width="1"/>
<line x1="653.6" y1="216.9" x2="653.6" y2="227.3" stroke="#7a7a7a" stroke-width="1"/>
<line x1="648.5" y1="216.9" x2="658.7" y2="216.9" stroke="#8a8a8a" stroke-width="1"/>
<line x1="648.5" y1="227.3" x2="658.7" y2="227.3" stroke="#8a8a8a" stroke-width="1"/>
<circle cx="438.5" cy="241.1" r="3.5" fill="#00f000" stroke="#000" stroke-width="1"/>
<circle cx="465.4" cy="213.8" r="3.5" fill="#00f000" stroke="#000" stroke-width="1"/>
<circle cx="491.9" cy="227.1" r="3.5" fill="#00f000" stroke="#000" stroke-width="1"/>
<circle cx="506.5" cy="234.6" r="3.5" fill="#00f000" stroke="#000" stroke-width="1"/>
<circle cx="533.6" cy="254" r="3.5" fill="#00f000" stroke="#000" stroke-width="1"/>
<circle cx="531.8" cy="268.2" r="3.5" fill="#00f000" stroke="#000" stroke-width="1"/>
<circle cx="546.3" cy="281.5" r="3.5" fill="#00f000" stroke="#000" stroke-width="1"/>
<circle cx="544.4" cy="313.1" r="3.5" fill="#00f000" stroke="#000" stroke-width="1"/>
<circle cx="554.9" cy="274.4" r="3.5" fill="#00f000" stroke="#000" stroke-width="1"/>
<circle cx="559" cy="274.9" r="3.5" fill="#00f000" stroke="#000" stroke-width="1"/>
<circle cx="560.9" cy="289.3" r="3.5" fill="#00f000" stroke="#000" stroke-width="1"/>
<circle cx="567.7" cy="268.2" r="3.5" fill="#00f000" stroke="#000" stroke-width="1"/>
<circle cx="580" cy="265.5" r="3.5" fill="#00f000" stroke="#000" stroke-width="1"/>
<circle cx="586.1" cy="219.1" r="3.5" fill="#00f000" stroke="#000" stroke-width="1"/>
<circle cx="587.9" cy="245.7" r="3.5" fill="#00f000" stroke="#000" stroke-width="1"/>
<circle cx="598.3" cy="246.8" r="3.5" fill="#00f000" stroke="#000" stroke-width="1"/>
<circle cx="615.6" cy="243.2" r="3.5" fill="#00f000" stroke="#000" stroke-width="1"/>
<circle cx="626" cy="218" r="3.5" fill="#00f000" stroke="#000" stroke-width="1"/>
<circle cx="653.6" cy="222.4" r="3.5" fill="#00f000" stroke="#000" stroke-width="1"/>
<rect x="412.4" y="200.5" width="265.3" height="132.6" fill="none" stroke="#444" stroke-width="1"/>
<text transform="translate(379.6,266.3) rotate(-90)" text-anchor="middle" font-size="14">Depth (km)</text>
<text x="417.1" y="324.2" font-size="22.4">(e)</text>
<line x1="412.4" y1="412.57" x2="417.4" y2="412.57" stroke="#444" stroke-width="0.9"/>
<line x1="677.7" y1="412.57" x2="672.7" y2="412.57" stroke="#444" stroke-width="0.9"/>
<text x="407.8" y="416.67" text-anchor="end" font-size="12">620</text>
<line x1="412.4" y1="439.11" x2="417.4" y2="439.11" stroke="#444" stroke-width="0.9"/>
<line x1="677.7" y1="439.11" x2="672.7" y2="439.11" stroke="#444" stroke-width="0.9"/>
<text x="407.8" y="443.21" text-anchor="end" font-size="12">640</text>
<line x1="412.4" y1="465.65" x2="417.4" y2="465.65" stroke="#444" stroke-width="0.9"/>
<line x1="677.7" y1="465.65" x2="672.7" y2="465.65" stroke="#444" stroke-width="0.9"/>
<text x="407.8" y="469.75" text-anchor="end" font-size="12">660</text>
<line x1="412.4" y1="492.19" x2="417.4" y2="492.19" stroke="#444" stroke-width="0.9"/>
<line x1="677.7" y1="492.19" x2="672.7" y2="492.19" stroke="#444" stroke-width="0.9"/>
<text x="407.8" y="496.29" text-anchor="end" font-size="12">680</text>
<line x1="412.4" y1="518.73" x2="417.4" y2="518.73" stroke="#444" stroke-width="0.9"/>
<line x1="677.7" y1="518.73" x2="672.7" y2="518.73" stroke="#444" stroke-width="0.9"/>
<text x="407.8" y="522.83" text-anchor="end" font-size="12">700</text>
<line x1="412.4" y1="399.3" x2="415.1" y2="399.3" stroke="#444" stroke-width="0.9"/>
<line x1="677.7" y1="399.3" x2="675" y2="399.3" stroke="#444" stroke-width="0.9"/>
<line x1="412.4" y1="425.84" x2="415.1" y2="425.84" stroke="#444" stroke-width="0.9"/>
<line x1="677.7" y1="425.84" x2="675" y2="425.84" stroke="#444" stroke-width="0.9"/>
<line x1="412.4" y1="452.38" x2="415.1" y2="452.38" stroke="#444" stroke-width="0.9"/>
<line x1="677.7" y1="452.38" x2="675" y2="452.38" stroke="#444" stroke-width="0.9"/>
<line x1="412.4" y1="478.92" x2="415.1" y2="478.92" stroke="#444" stroke-width="0.9"/>
<line x1="677.7" y1="478.92" x2="675" y2="478.92" stroke="#444" stroke-width="0.9"/>
<line x1="412.4" y1="505.46" x2="415.1" y2="505.46" stroke="#444" stroke-width="0.9"/>
<line x1="677.7" y1="505.46" x2="675" y2="505.46" stroke="#444" stroke-width="0.9"/>
<line x1="412.4" y1="532" x2="415.1" y2="532" stroke="#444" stroke-width="0.9"/>
<line x1="677.7" y1="532" x2="675" y2="532" stroke="#444" stroke-width="0.9"/>
<text x="412.4" y="545.6" text-anchor="middle" font-size="12">0</text>
<line x1="445.56" y1="532" x2="445.56" y2="529" stroke="#444" stroke-width="0.9"/>
<line x1="445.56" y1="399.3" x2="445.56" y2="402.3" stroke="#444" stroke-width="0.9"/>
<line x1="478.73" y1="532" x2="478.73" y2="527.5" stroke="#444" stroke-width="0.9"/>
<line x1="478.73" y1="399.3" x2="478.73" y2="403.8" stroke="#444" stroke-width="0.9"/>
<text x="478.73" y="545.6" text-anchor="middle" font-size="12">5</text>
<line x1="511.89" y1="532" x2="511.89" y2="529" stroke="#444" stroke-width="0.9"/>
<line x1="511.89" y1="399.3" x2="511.89" y2="402.3" stroke="#444" stroke-width="0.9"/>
<line x1="545.05" y1="532" x2="545.05" y2="527.5" stroke="#444" stroke-width="0.9"/>
<line x1="545.05" y1="399.3" x2="545.05" y2="403.8" stroke="#444" stroke-width="0.9"/>
<text x="545.05" y="545.6" text-anchor="middle" font-size="12">10</text>
<line x1="578.21" y1="532" x2="578.21" y2="529" stroke="#444" stroke-width="0.9"/>
<line x1="578.21" y1="399.3" x2="578.21" y2="402.3" stroke="#444" stroke-width="0.9"/>
<line x1="611.38" y1="532" x2="611.38" y2="527.5" stroke="#444" stroke-width="0.9"/>
<line x1="611.38" y1="399.3" x2="611.38" y2="403.8" stroke="#444" stroke-width="0.9"/>
<text x="611.38" y="545.6" text-anchor="middle" font-size="12">15</text>
<line x1="644.54" y1="532" x2="644.54" y2="529" stroke="#444" stroke-width="0.9"/>
<line x1="644.54" y1="399.3" x2="644.54" y2="402.3" stroke="#444" stroke-width="0.9"/>
<text x="677.7" y="545.6" text-anchor="middle" font-size="12">20</text>
<text x="545.2" y="565.2" text-anchor="middle" font-size="14.2">Distance from A (°)</text>
<line x1="412.4" y1="465.9" x2="677.7" y2="465.9" stroke="#ec8585" stroke-width="1.9" stroke-dasharray="7.4 2.98"/>
<line x1="438.8" y1="446.6" x2="438.8" y2="469.2" stroke="#7a7a7a" stroke-width="1"/>
<line x1="433.7" y1="446.6" x2="443.9" y2="446.6" stroke="#8a8a8a" stroke-width="1"/>
<line x1="433.7" y1="469.2" x2="443.9" y2="469.2" stroke="#8a8a8a" stroke-width="1"/>
<line x1="465.6" y1="461.4" x2="465.6" y2="478.3" stroke="#7a7a7a" stroke-width="1"/>
<line x1="460.5" y1="461.4" x2="470.7" y2="461.4" stroke="#8a8a8a" stroke-width="1"/>
<line x1="460.5" y1="478.3" x2="470.7" y2="478.3" stroke="#8a8a8a" stroke-width="1"/>
<line x1="491.9" y1="482.6" x2="491.9" y2="502.1" stroke="#7a7a7a" stroke-width="1"/>
<line x1="486.8" y1="482.6" x2="497" y2="482.6" stroke="#8a8a8a" stroke-width="1"/>
<line x1="486.8" y1="502.1" x2="497" y2="502.1" stroke="#8a8a8a" stroke-width="1"/>
<line x1="506.5" y1="477.1" x2="506.5" y2="507.2" stroke="#7a7a7a" stroke-width="1"/>
<line x1="501.4" y1="477.1" x2="511.6" y2="477.1" stroke="#8a8a8a" stroke-width="1"/>
<line x1="501.4" y1="507.2" x2="511.6" y2="507.2" stroke="#8a8a8a" stroke-width="1"/>
<line x1="531.7" y1="456.7" x2="531.7" y2="472.7" stroke="#7a7a7a" stroke-width="1"/>
<line x1="526.6" y1="456.7" x2="536.8" y2="456.7" stroke="#8a8a8a" stroke-width="1"/>
<line x1="526.6" y1="472.7" x2="536.8" y2="472.7" stroke="#8a8a8a" stroke-width="1"/>
<line x1="533.5" y1="444.3" x2="533.5" y2="479.3" stroke="#7a7a7a" stroke-width="1"/>
<line x1="528.4" y1="444.3" x2="538.6" y2="444.3" stroke="#8a8a8a" stroke-width="1"/>
<line x1="528.4" y1="479.3" x2="538.6" y2="479.3" stroke="#8a8a8a" stroke-width="1"/>
<line x1="546.2" y1="450.3" x2="546.2" y2="468.9" stroke="#7a7a7a" stroke-width="1"/>
<line x1="541.1" y1="450.3" x2="551.3" y2="450.3" stroke="#8a8a8a" stroke-width="1"/>
<line x1="541.1" y1="468.9" x2="551.3" y2="468.9" stroke="#8a8a8a" stroke-width="1"/>
<line x1="544.1" y1="489.3" x2="544.1" y2="524.2" stroke="#7a7a7a" stroke-width="1"/>
<line x1="539" y1="489.3" x2="549.2" y2="489.3" stroke="#8a8a8a" stroke-width="1"/>
<line x1="539" y1="524.2" x2="549.2" y2="524.2" stroke="#8a8a8a" stroke-width="1"/>
<line x1="554.8" y1="440" x2="554.8" y2="450.3" stroke="#7a7a7a" stroke-width="1"/>
<line x1="549.7" y1="440" x2="559.9" y2="440" stroke="#8a8a8a" stroke-width="1"/>
<line x1="549.7" y1="450.3" x2="559.9" y2="450.3" stroke="#8a8a8a" stroke-width="1"/>
<line x1="558.8" y1="468" x2="558.8" y2="476.2" stroke="#7a7a7a" stroke-width="1"/>
<line x1="553.7" y1="468" x2="563.9" y2="468" stroke="#8a8a8a" stroke-width="1"/>
<line x1="553.7" y1="476.2" x2="563.9" y2="476.2" stroke="#8a8a8a" stroke-width="1"/>
<line x1="560.8" y1="483.5" x2="560.8" y2="492.6" stroke="#7a7a7a" stroke-width="1"/>
<line x1="555.7" y1="483.5" x2="565.9" y2="483.5" stroke="#8a8a8a" stroke-width="1"/>
<line x1="555.7" y1="492.6" x2="565.9" y2="492.6" stroke="#8a8a8a" stroke-width="1"/>
<line x1="567.6" y1="401.9" x2="567.6" y2="430.2" stroke="#7a7a7a" stroke-width="1"/>
<line x1="562.5" y1="401.9" x2="572.7" y2="401.9" stroke="#8a8a8a" stroke-width="1"/>
<line x1="562.5" y1="430.2" x2="572.7" y2="430.2" stroke="#8a8a8a" stroke-width="1"/>
<line x1="580.4" y1="450.3" x2="580.4" y2="469.8" stroke="#7a7a7a" stroke-width="1"/>
<line x1="575.3" y1="450.3" x2="585.5" y2="450.3" stroke="#8a8a8a" stroke-width="1"/>
<line x1="575.3" y1="469.8" x2="585.5" y2="469.8" stroke="#8a8a8a" stroke-width="1"/>
<line x1="586.1" y1="471.3" x2="586.1" y2="482.3" stroke="#7a7a7a" stroke-width="1"/>
<line x1="581" y1="471.3" x2="591.2" y2="471.3" stroke="#8a8a8a" stroke-width="1"/>
<line x1="581" y1="482.3" x2="591.2" y2="482.3" stroke="#8a8a8a" stroke-width="1"/>
<line x1="587.9" y1="481.7" x2="587.9" y2="502.7" stroke="#7a7a7a" stroke-width="1"/>
<line x1="582.8" y1="481.7" x2="593" y2="481.7" stroke="#8a8a8a" stroke-width="1"/>
<line x1="582.8" y1="502.7" x2="593" y2="502.7" stroke="#8a8a8a" stroke-width="1"/>
<line x1="598.3" y1="473.9" x2="598.3" y2="495" stroke="#7a7a7a" stroke-width="1"/>
<line x1="593.2" y1="473.9" x2="603.4" y2="473.9" stroke="#8a8a8a" stroke-width="1"/>
<line x1="593.2" y1="495" x2="603.4" y2="495" stroke="#8a8a8a" stroke-width="1"/>
<line x1="615.6" y1="452.5" x2="615.6" y2="465.3" stroke="#7a7a7a" stroke-width="1"/>
<line x1="610.5" y1="452.5" x2="620.7" y2="452.5" stroke="#8a8a8a" stroke-width="1"/>
<line x1="610.5" y1="465.3" x2="620.7" y2="465.3" stroke="#8a8a8a" stroke-width="1"/>
<line x1="626" y1="404.1" x2="626" y2="437.4" stroke="#7a7a7a" stroke-width="1"/>
<line x1="620.9" y1="404.1" x2="631.1" y2="404.1" stroke="#8a8a8a" stroke-width="1"/>
<line x1="620.9" y1="437.4" x2="631.1" y2="437.4" stroke="#8a8a8a" stroke-width="1"/>
<line x1="653.6" y1="456.7" x2="653.6" y2="476.4" stroke="#7a7a7a" stroke-width="1"/>
<line x1="648.5" y1="456.7" x2="658.7" y2="456.7" stroke="#8a8a8a" stroke-width="1"/>
<line x1="648.5" y1="476.4" x2="658.7" y2="476.4" stroke="#8a8a8a" stroke-width="1"/>
<circle cx="438.8" cy="457.7" r="3.5" fill="#00f000" stroke="#000" stroke-width="1"/>
<circle cx="465.6" cy="469.4" r="3.5" fill="#00f000" stroke="#000" stroke-width="1"/>
<circle cx="491.9" cy="492" r="3.5" fill="#00f000" stroke="#000" stroke-width="1"/>
<circle cx="506.5" cy="492" r="3.5" fill="#00f000" stroke="#000" stroke-width="1"/>
<circle cx="531.7" cy="464.7" r="3.5" fill="#00f000" stroke="#000" stroke-width="1"/>
<circle cx="533.5" cy="461.8" r="3.5" fill="#00f000" stroke="#000" stroke-width="1"/>
<circle cx="546.2" cy="459.8" r="3.5" fill="#00f000" stroke="#000" stroke-width="1"/>
<circle cx="544.1" cy="506.6" r="3.5" fill="#00f000" stroke="#000" stroke-width="1"/>
<circle cx="554.8" cy="445.2" r="3.5" fill="#00f000" stroke="#000" stroke-width="1"/>
<circle cx="558.8" cy="471.8" r="3.5" fill="#00f000" stroke="#000" stroke-width="1"/>
<circle cx="560.8" cy="488.2" r="3.5" fill="#00f000" stroke="#000" stroke-width="1"/>
<circle cx="567.6" cy="416.2" r="3.5" fill="#00f000" stroke="#000" stroke-width="1"/>
<circle cx="580.4" cy="460" r="3.5" fill="#00f000" stroke="#000" stroke-width="1"/>
<circle cx="586.1" cy="477.1" r="3.5" fill="#00f000" stroke="#000" stroke-width="1"/>
<circle cx="587.9" cy="492.1" r="3.5" fill="#00f000" stroke="#000" stroke-width="1"/>
<circle cx="598.3" cy="484.1" r="3.5" fill="#00f000" stroke="#000" stroke-width="1"/>
<circle cx="615.6" cy="458.7" r="3.5" fill="#00f000" stroke="#000" stroke-width="1"/>
<circle cx="626" cy="420.6" r="3.5" fill="#00f000" stroke="#000" stroke-width="1"/>
<circle cx="653.6" cy="466.6" r="3.5" fill="#00f000" stroke="#000" stroke-width="1"/>
<rect x="412.4" y="399.3" width="265.3" height="132.7" fill="none" stroke="#444" stroke-width="1"/>
<text transform="translate(379.6,465.6) rotate(-90)" text-anchor="middle" font-size="14">Depth (km)</text>
<text x="417.1" y="522.7" font-size="22.4">(f)</text>
<line x1="412.4" y1="609.47" x2="417.4" y2="609.47" stroke="#444" stroke-width="0.9"/>
<line x1="677.7" y1="609.47" x2="672.7" y2="609.47" stroke="#444" stroke-width="0.9"/>
<text x="407.8" y="613.57" text-anchor="end" font-size="12">200</text>
<line x1="412.4" y1="631.4" x2="417.4" y2="631.4" stroke="#444" stroke-width="0.9"/>
<line x1="677.7" y1="631.4" x2="672.7" y2="631.4" stroke="#444" stroke-width="0.9"/>
<text x="407.8" y="635.5" text-anchor="end" font-size="12">220</text>
<line x1="412.4" y1="653.33" x2="417.4" y2="653.33" stroke="#444" stroke-width="0.9"/>
<line x1="677.7" y1="653.33" x2="672.7" y2="653.33" stroke="#444" stroke-width="0.9"/>
<text x="407.8" y="657.43" text-anchor="end" font-size="12">240</text>
<line x1="412.4" y1="675.27" x2="417.4" y2="675.27" stroke="#444" stroke-width="0.9"/>
<line x1="677.7" y1="675.27" x2="672.7" y2="675.27" stroke="#444" stroke-width="0.9"/>
<text x="407.8" y="679.37" text-anchor="end" font-size="12">260</text>
<line x1="412.4" y1="697.2" x2="417.4" y2="697.2" stroke="#444" stroke-width="0.9"/>
<line x1="677.7" y1="697.2" x2="672.7" y2="697.2" stroke="#444" stroke-width="0.9"/>
<text x="407.8" y="701.3" text-anchor="end" font-size="12">280</text>
<line x1="412.4" y1="719.13" x2="417.4" y2="719.13" stroke="#444" stroke-width="0.9"/>
<line x1="677.7" y1="719.13" x2="672.7" y2="719.13" stroke="#444" stroke-width="0.9"/>
<text x="407.8" y="723.23" text-anchor="end" font-size="12">300</text>
<line x1="412.4" y1="598.5" x2="415.1" y2="598.5" stroke="#444" stroke-width="0.9"/>
<line x1="677.7" y1="598.5" x2="675" y2="598.5" stroke="#444" stroke-width="0.9"/>
<line x1="412.4" y1="620.43" x2="415.1" y2="620.43" stroke="#444" stroke-width="0.9"/>
<line x1="677.7" y1="620.43" x2="675" y2="620.43" stroke="#444" stroke-width="0.9"/>
<line x1="412.4" y1="642.37" x2="415.1" y2="642.37" stroke="#444" stroke-width="0.9"/>
<line x1="677.7" y1="642.37" x2="675" y2="642.37" stroke="#444" stroke-width="0.9"/>
<line x1="412.4" y1="664.3" x2="415.1" y2="664.3" stroke="#444" stroke-width="0.9"/>
<line x1="677.7" y1="664.3" x2="675" y2="664.3" stroke="#444" stroke-width="0.9"/>
<line x1="412.4" y1="686.23" x2="415.1" y2="686.23" stroke="#444" stroke-width="0.9"/>
<line x1="677.7" y1="686.23" x2="675" y2="686.23" stroke="#444" stroke-width="0.9"/>
<line x1="412.4" y1="708.17" x2="415.1" y2="708.17" stroke="#444" stroke-width="0.9"/>
<line x1="677.7" y1="708.17" x2="675" y2="708.17" stroke="#444" stroke-width="0.9"/>
<line x1="412.4" y1="730.1" x2="415.1" y2="730.1" stroke="#444" stroke-width="0.9"/>
<line x1="677.7" y1="730.1" x2="675" y2="730.1" stroke="#444" stroke-width="0.9"/>
<text x="412.4" y="743.7" text-anchor="middle" font-size="12">0</text>
<line x1="445.56" y1="730.1" x2="445.56" y2="727.1" stroke="#444" stroke-width="0.9"/>
<line x1="445.56" y1="598.5" x2="445.56" y2="601.5" stroke="#444" stroke-width="0.9"/>
<line x1="478.73" y1="730.1" x2="478.73" y2="725.6" stroke="#444" stroke-width="0.9"/>
<line x1="478.73" y1="598.5" x2="478.73" y2="603" stroke="#444" stroke-width="0.9"/>
<text x="478.73" y="743.7" text-anchor="middle" font-size="12">5</text>
<line x1="511.89" y1="730.1" x2="511.89" y2="727.1" stroke="#444" stroke-width="0.9"/>
<line x1="511.89" y1="598.5" x2="511.89" y2="601.5" stroke="#444" stroke-width="0.9"/>
<line x1="545.05" y1="730.1" x2="545.05" y2="725.6" stroke="#444" stroke-width="0.9"/>
<line x1="545.05" y1="598.5" x2="545.05" y2="603" stroke="#444" stroke-width="0.9"/>
<text x="545.05" y="743.7" text-anchor="middle" font-size="12">10</text>
<line x1="578.21" y1="730.1" x2="578.21" y2="727.1" stroke="#444" stroke-width="0.9"/>
<line x1="578.21" y1="598.5" x2="578.21" y2="601.5" stroke="#444" stroke-width="0.9"/>
<line x1="611.38" y1="730.1" x2="611.38" y2="725.6" stroke="#444" stroke-width="0.9"/>
<line x1="611.38" y1="598.5" x2="611.38" y2="603" stroke="#444" stroke-width="0.9"/>
<text x="611.38" y="743.7" text-anchor="middle" font-size="12">15</text>
<line x1="644.54" y1="730.1" x2="644.54" y2="727.1" stroke="#444" stroke-width="0.9"/>
<line x1="644.54" y1="598.5" x2="644.54" y2="601.5" stroke="#444" stroke-width="0.9"/>
<text x="677.7" y="743.7" text-anchor="middle" font-size="12">20</text>
<text x="545.2" y="763.3" text-anchor="middle" font-size="14.2">Distance from A (°)</text>
<line x1="412.4" y1="664.5" x2="677.7" y2="664.5" stroke="#e53a3a" stroke-width="1.4" stroke-dasharray="7.4 2.98"/>
<line x1="438.9" y1="669.2" x2="438.9" y2="689.2" stroke="#7a7a7a" stroke-width="1"/>
<line x1="433.8" y1="669.2" x2="444" y2="669.2" stroke="#8a8a8a" stroke-width="1"/>
<line x1="433.8" y1="689.2" x2="444" y2="689.2" stroke="#8a8a8a" stroke-width="1"/>
<line x1="465.5" y1="701.2" x2="465.5" y2="722.7" stroke="#7a7a7a" stroke-width="1"/>
<line x1="460.4" y1="701.2" x2="470.6" y2="701.2" stroke="#8a8a8a" stroke-width="1"/>
<line x1="460.4" y1="722.7" x2="470.6" y2="722.7" stroke="#8a8a8a" stroke-width="1"/>
<line x1="492.1" y1="708.7" x2="492.1" y2="730.1" stroke="#7a7a7a" stroke-width="1"/>
<line x1="487" y1="708.7" x2="497.2" y2="708.7" stroke="#8a8a8a" stroke-width="1"/>
<line x1="487" y1="730.1" x2="497.2" y2="730.1" stroke="#8a8a8a" stroke-width="1"/>
<line x1="506.3" y1="698.3" x2="506.3" y2="728.3" stroke="#7a7a7a" stroke-width="1"/>
<line x1="501.2" y1="698.3" x2="511.4" y2="698.3" stroke="#8a8a8a" stroke-width="1"/>
<line x1="501.2" y1="728.3" x2="511.4" y2="728.3" stroke="#8a8a8a" stroke-width="1"/>
<line x1="531.8" y1="654.5" x2="531.8" y2="668" stroke="#7a7a7a" stroke-width="1"/>
<line x1="526.7" y1="654.5" x2="536.9" y2="654.5" stroke="#8a8a8a" stroke-width="1"/>
<line x1="526.7" y1="668" x2="536.9" y2="668" stroke="#8a8a8a" stroke-width="1"/>
<line x1="533.6" y1="656.4" x2="533.6" y2="687.3" stroke="#7a7a7a" stroke-width="1"/>
<line x1="528.5" y1="656.4" x2="538.7" y2="656.4" stroke="#8a8a8a" stroke-width="1"/>
<line x1="528.5" y1="687.3" x2="538.7" y2="687.3" stroke="#8a8a8a" stroke-width="1"/>
<line x1="544.4" y1="640.9" x2="544.4" y2="679.3" stroke="#7a7a7a" stroke-width="1"/>
<line x1="539.3" y1="640.9" x2="549.5" y2="640.9" stroke="#8a8a8a" stroke-width="1"/>
<line x1="539.3" y1="679.3" x2="549.5" y2="679.3" stroke="#8a8a8a" stroke-width="1"/>
<line x1="546.3" y1="631.3" x2="546.3" y2="663.8" stroke="#7a7a7a" stroke-width="1"/>
<line x1="541.2" y1="631.3" x2="551.4" y2="631.3" stroke="#8a8a8a" stroke-width="1"/>
<line x1="541.2" y1="663.8" x2="551.4" y2="663.8" stroke="#8a8a8a" stroke-width="1"/>
<line x1="554.9" y1="633.2" x2="554.9" y2="648.9" stroke="#7a7a7a" stroke-width="1"/>
<line x1="549.8" y1="633.2" x2="560" y2="633.2" stroke="#8a8a8a" stroke-width="1"/>
<line x1="549.8" y1="648.9" x2="560" y2="648.9" stroke="#8a8a8a" stroke-width="1"/>
<line x1="558.6" y1="657.2" x2="558.6" y2="669.4" stroke="#7a7a7a" stroke-width="1"/>
<line x1="553.5" y1="657.2" x2="563.7" y2="657.2" stroke="#8a8a8a" stroke-width="1"/>
<line x1="553.5" y1="669.4" x2="563.7" y2="669.4" stroke="#8a8a8a" stroke-width="1"/>
<line x1="560.9" y1="657.6" x2="560.9" y2="671.8" stroke="#7a7a7a" stroke-width="1"/>
<line x1="555.8" y1="657.6" x2="566" y2="657.6" stroke="#8a8a8a" stroke-width="1"/>
<line x1="555.8" y1="671.8" x2="566" y2="671.8" stroke="#8a8a8a" stroke-width="1"/>
<line x1="567.7" y1="605.2" x2="567.7" y2="638.4" stroke="#7a7a7a" stroke-width="1"/>
<line x1="562.6" y1="605.2" x2="572.8" y2="605.2" stroke="#8a8a8a" stroke-width="1"/>
<line x1="562.6" y1="638.4" x2="572.8" y2="638.4" stroke="#8a8a8a" stroke-width="1"/>
<line x1="580.4" y1="652.4" x2="580.4" y2="669.8" stroke="#7a7a7a" stroke-width="1"/>
<line x1="575.3" y1="652.4" x2="585.5" y2="652.4" stroke="#8a8a8a" stroke-width="1"/>
<line x1="575.3" y1="669.8" x2="585.5" y2="669.8" stroke="#8a8a8a" stroke-width="1"/>
<line x1="586.5" y1="705" x2="586.5" y2="722.4" stroke="#7a7a7a" stroke-width="1"/>
<line x1="581.4" y1="705" x2="591.6" y2="705" stroke="#8a8a8a" stroke-width="1"/>
<line x1="581.4" y1="722.4" x2="591.6" y2="722.4" stroke="#8a8a8a" stroke-width="1"/>
<line x1="588" y1="689.3" x2="588" y2="718.6" stroke="#7a7a7a" stroke-width="1"/>
<line x1="582.9" y1="689.3" x2="593.1" y2="689.3" stroke="#8a8a8a" stroke-width="1"/>
<line x1="582.9" y1="718.6" x2="593.1" y2="718.6" stroke="#8a8a8a" stroke-width="1"/>
<line x1="598.4" y1="685.5" x2="598.4" y2="708.6" stroke="#7a7a7a" stroke-width="1"/>
<line x1="593.3" y1="685.5" x2="603.5" y2="685.5" stroke="#8a8a8a" stroke-width="1"/>
<line x1="593.3" y1="708.6" x2="603.5" y2="708.6" stroke="#8a8a8a" stroke-width="1"/>
<line x1="615.4" y1="670" x2="615.4" y2="687.4" stroke="#7a7a7a" stroke-width="1"/>
<line x1="610.3" y1="670" x2="620.5" y2="670" stroke="#8a8a8a" stroke-width="1"/>
<line x1="610.3" y1="687.4" x2="620.5" y2="687.4" stroke="#8a8a8a" stroke-width="1"/>
<line x1="625.8" y1="649.6" x2="625.8" y2="686.1" stroke="#7a7a7a" stroke-width="1"/>
<line x1="620.7" y1="649.6" x2="630.9" y2="649.6" stroke="#8a8a8a" stroke-width="1"/>
<line x1="620.7" y1="686.1" x2="630.9" y2="686.1" stroke="#8a8a8a" stroke-width="1"/>
<line x1="653.6" y1="693.5" x2="653.6" y2="711.6" stroke="#7a7a7a" stroke-width="1"/>
<line x1="648.5" y1="693.5" x2="658.7" y2="693.5" stroke="#8a8a8a" stroke-width="1"/>
<line x1="648.5" y1="711.6" x2="658.7" y2="711.6" stroke="#8a8a8a" stroke-width="1"/>
<circle cx="438.9" cy="679.3" r="3.5" fill="#00f000" stroke="#000" stroke-width="1"/>
<circle cx="465.5" cy="711.9" r="3.5" fill="#00f000" stroke="#000" stroke-width="1"/>
<circle cx="492.1" cy="719.8" r="3.5" fill="#00f000" stroke="#000" stroke-width="1"/>
<circle cx="506.3" cy="713.2" r="3.5" fill="#00f000" stroke="#000" stroke-width="1"/>
<circle cx="531.8" cy="662.3" r="3.5" fill="#00f000" stroke="#000" stroke-width="1"/>
<circle cx="533.6" cy="671.8" r="3.5" fill="#00f000" stroke="#000" stroke-width="1"/>
<circle cx="544.4" cy="660.1" r="3.5" fill="#00f000" stroke="#000" stroke-width="1"/>
<circle cx="546.3" cy="647.3" r="3.5" fill="#00f000" stroke="#000" stroke-width="1"/>
<circle cx="554.9" cy="640.9" r="3.5" fill="#00f000" stroke="#000" stroke-width="1"/>
<circle cx="558.6" cy="663.2" r="3.5" fill="#00f000" stroke="#000" stroke-width="1"/>
<circle cx="560.9" cy="664.4" r="3.5" fill="#00f000" stroke="#000" stroke-width="1"/>
<circle cx="567.7" cy="621.9" r="3.5" fill="#00f000" stroke="#000" stroke-width="1"/>
<circle cx="580.4" cy="661.3" r="3.5" fill="#00f000" stroke="#000" stroke-width="1"/>
<circle cx="586.5" cy="713.9" r="3.5" fill="#00f000" stroke="#000" stroke-width="1"/>
<circle cx="588" cy="704.4" r="3.5" fill="#00f000" stroke="#000" stroke-width="1"/>
<circle cx="598.4" cy="696.9" r="3.5" fill="#00f000" stroke="#000" stroke-width="1"/>
<circle cx="615.4" cy="678.5" r="3.5" fill="#00f000" stroke="#000" stroke-width="1"/>
<circle cx="625.8" cy="667.9" r="3.5" fill="#00f000" stroke="#000" stroke-width="1"/>
<circle cx="653.6" cy="702.5" r="3.5" fill="#00f000" stroke="#000" stroke-width="1"/>
<rect x="412.4" y="598.5" width="265.3" height="131.6" fill="none" stroke="#444" stroke-width="1"/>
<text transform="translate(379.6,665) rotate(-90)" text-anchor="middle" font-size="14">MTZ Thickness (km)</text>
<text x="417.1" y="721.5" font-size="22.4">(g)</text>
</svg>
</body></html>
